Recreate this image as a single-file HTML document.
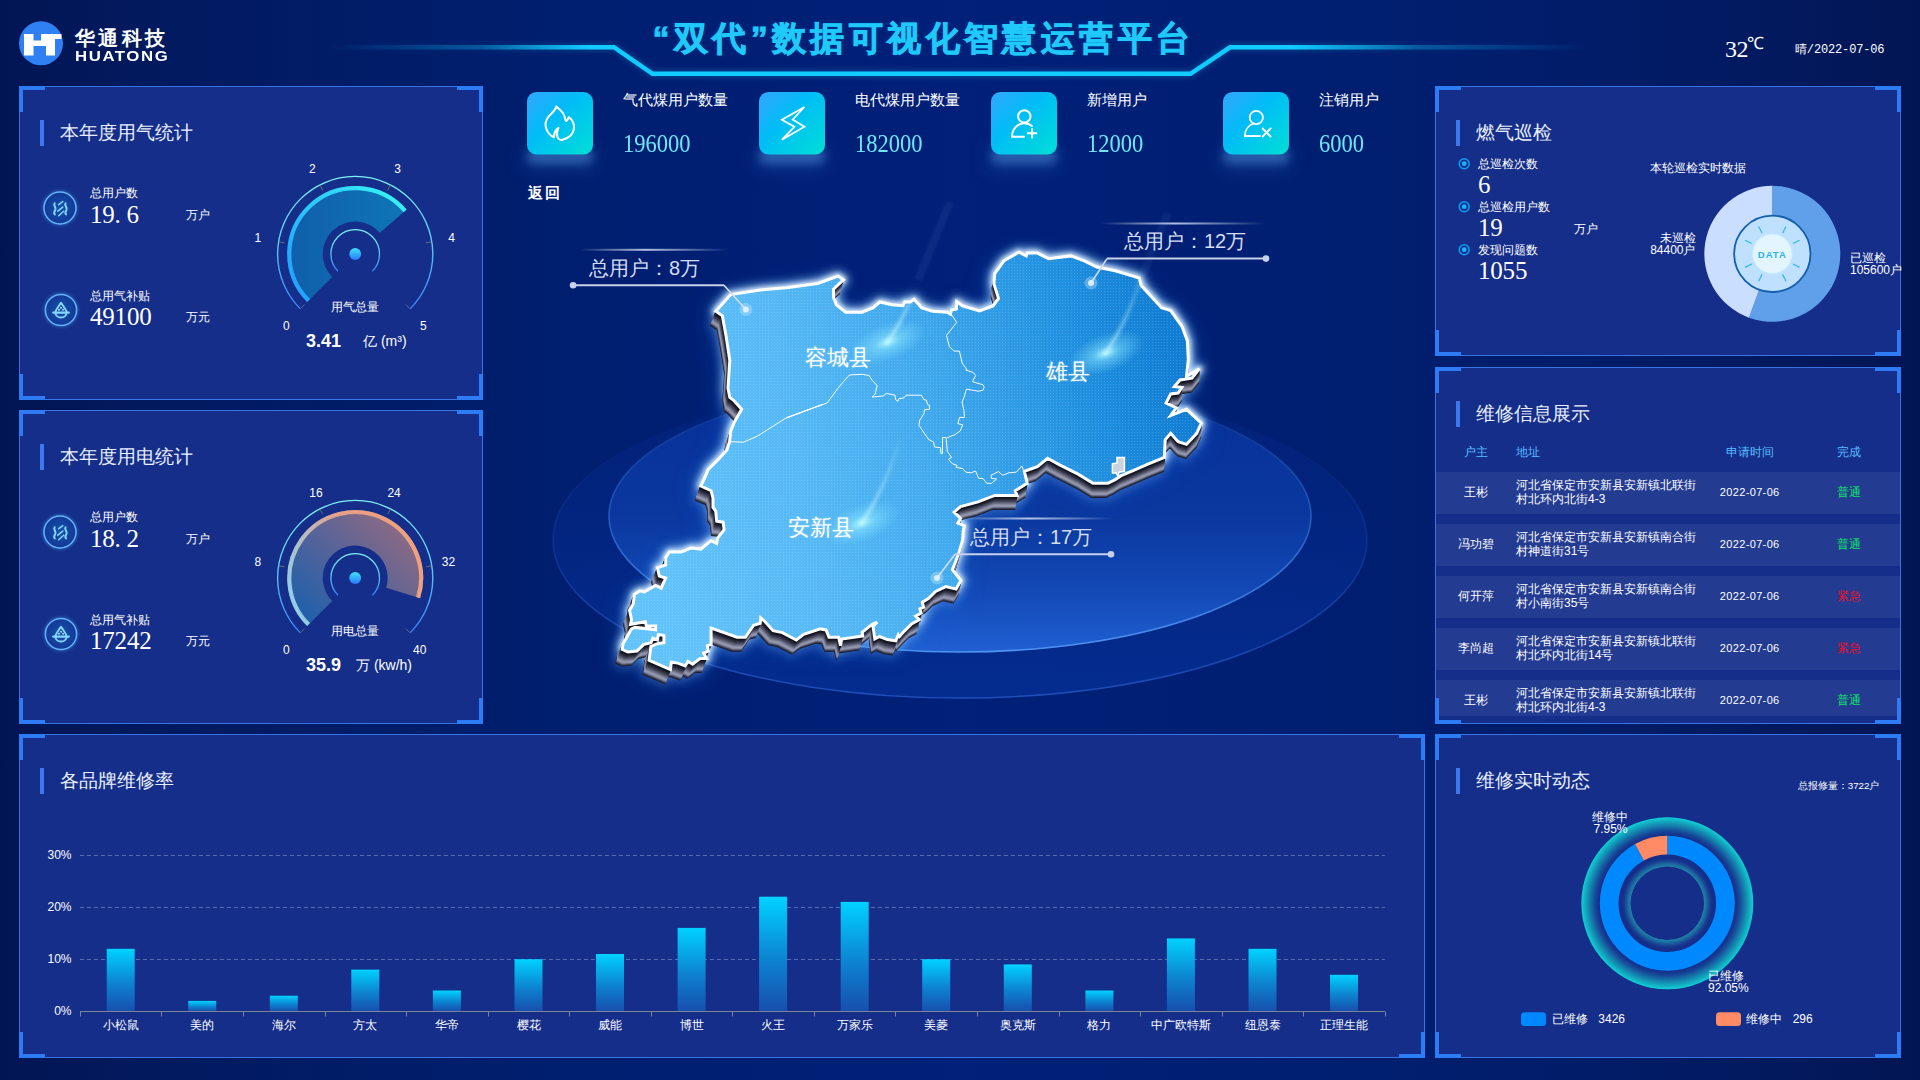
<!DOCTYPE html>
<html lang="zh">
<head>
<meta charset="utf-8">
<title>dashboard</title>
<style>
*{box-sizing:border-box;margin:0;padding:0}
html,body{width:1920px;height:1080px;overflow:hidden;background:#021a5c}
body{position:relative;font-family:"Liberation Sans",sans-serif;color:#fff;
 background:linear-gradient(90deg,#021553 0%,#02195d 7%,#011d69 20%,#001f73 36%,#002079 50%,#001f73 64%,#011d6b 80%,#02195d 93%,#021553 100%)}
.abs{position:absolute}
.serif{font-family:"Liberation Serif",serif}
.panel{position:absolute;background:#152e8a;border:1px solid #3a74e4}
.panel i{z-index:3;position:absolute;width:26px;height:26px;border:0 solid #2d7cf6}
.panel i.tl{left:-1px;top:-1px;border-left-width:4px;border-top-width:4px}
.panel i.tr{right:-1px;top:-1px;border-right-width:4px;border-top-width:4px}
.panel i.bl{left:-1px;bottom:-1px;border-left-width:4px;border-bottom-width:4px}
.panel i.br{right:-1px;bottom:-1px;border-right-width:4px;border-bottom-width:4px}
.ptitle{position:absolute;left:20px;top:32.5px;height:26px;border-left:4px solid #3f78ee;padding-left:16px;
 font-family:"Liberation Serif",serif;font-size:19px;line-height:26px;letter-spacing:0;color:#e8eefc;white-space:nowrap}
.t12{font-size:12px;line-height:14px;white-space:nowrap}
.num{font-family:"Liberation Serif",serif;font-size:25px;line-height:24px;white-space:nowrap;letter-spacing:-0.2px}
.num b{display:inline-block;width:12px;font-weight:normal}
</style>
</head>
<body>
<!-- header -->
<svg class="abs" style="left:0;top:0" width="1920" height="90" viewBox="0 0 1920 90">
 <defs>
  <linearGradient id="hl" x1="0" x2="1" y1="0" y2="0">
   <stop offset="0" stop-color="#12c8ff" stop-opacity="0"/>
   <stop offset="0.12" stop-color="#12c8ff" stop-opacity="0.3"/>
   <stop offset="0.206" stop-color="#12ccff" stop-opacity="1"/>
   <stop offset="0.762" stop-color="#12ccff" stop-opacity="1"/>
   <stop offset="0.865" stop-color="#12c8ff" stop-opacity="0.3"/>
   <stop offset="1" stop-color="#12c8ff" stop-opacity="0"/>
  </linearGradient>
  <filter id="hglow" x="-5%" y="-200%" width="110%" height="500%"><feGaussianBlur stdDeviation="2.5"/></filter>
 </defs>
 <path d="M330 47.3 H614 L652.5 73.8 H1190.5 L1230 47.3 H1590" fill="none" stroke="url(#hl)" stroke-width="7" filter="url(#hglow)" opacity="0.22" gradientUnits="userSpaceOnUse"/>
 <path d="M330 47.3 H614 L652.5 73.8 H1190.5 L1230 47.3 H1590" fill="none" stroke="url(#hl)" stroke-width="4.4"/>
 <!-- logo -->
 <circle cx="41" cy="43.3" r="22" fill="#2f80f2"/>
 <path d="M24 34 H33.5 V40.5 H41 V34 H61.5 V39 H55 V55.5 H46 V46 H33.5 V55.5 H24 Z" fill="#fff"/>
</svg>
<div class="abs" style="left:75px;top:26px;font-size:20px;line-height:24px;font-weight:bold;letter-spacing:3.4px;white-space:nowrap">华通科技</div>
<div class="abs" style="left:75px;top:47px;font-size:14px;line-height:18px;font-weight:bold;letter-spacing:1.3px;white-space:nowrap;transform:scaleX(1.2);transform-origin:0 0">HUATONG</div>
<div class="abs" id="title" style="left:643.5px;top:15px;width:560px;text-align:center;font-size:34px;line-height:46px;font-weight:bold;letter-spacing:4.4px;white-space:nowrap;color:#1fc9f9;-webkit-text-stroke:0.8px #1fc9f9;text-shadow:0 0 4px rgba(20,160,255,.25)">“双代”数据可视化智慧运营平台</div>
<div class="abs serif" style="left:1725px;top:36.5px;font-size:24px;line-height:24px;white-space:nowrap;letter-spacing:-0.6px">32<span style="font-size:17px;position:relative;top:-7.5px;letter-spacing:0;margin-left:-0.8px">℃</span></div>
<div class="abs" style="left:1795px;top:42.5px;font-size:12px;line-height:14px;font-family:'Liberation Mono',monospace;letter-spacing:-0.15px;white-space:nowrap">晴/2022-07-06</div>

<!-- stat cards -->
<svg width="0" height="0" style="position:absolute"><defs><linearGradient id="cg" x1="0" y1="0" x2="1" y2="1"><stop offset="0" stop-color="#33a6ff"/><stop offset="0.42" stop-color="#00bdf6"/><stop offset="1" stop-color="#00dfd6"/></linearGradient></defs></svg>
<div class="abs" style="left:532px;top:148px;width:56px;height:6px;border-radius:3px;box-shadow:0 5px 9px 5px rgba(74,140,212,.5),0 8px 18px 10px rgba(50,110,200,.22)"></div>
<svg class="abs" style="left:527px;top:92px" width="66" height="63" viewBox="0 0 66 63"><rect x="0" y="0" width="66" height="62.5" rx="9.5" fill="url(#cg)"/><path d="M29.2 14.4 C32.5 17 36.5 20 37.8 25 C38.2 27.6 38.6 29 39.3 29 C40.3 28.6 40.8 26.6 42 25.2 C45 27.5 47.2 31.5 47 36 C46.7 41.5 42 46.6 35 48 C32 48.2 30.2 46 30 42.5 C29.9 39.5 31 36.8 31.5 35.8 C29 37 27.3 40 27 45.2 C23.5 44 19.5 40 18.6 34 C18 28.5 21 24.5 24.5 21.5 C27 19.3 28.8 17 29.2 14.4 Z" fill="none" stroke="#fff" stroke-width="2" stroke-linejoin="round"/></svg>
<div class="abs serif" style="left:623px;top:91px;font-size:14.8px;line-height:18px;letter-spacing:0;white-space:nowrap">气代煤用户数量</div>
<div class="abs serif" style="left:623px;top:131.3px;font-size:22.5px;line-height:26px;white-space:nowrap;color:#6fe6f8;transform:scaleY(1.08);transform-origin:0 30%">196000</div>
<div class="abs" style="left:764px;top:148px;width:56px;height:6px;border-radius:3px;box-shadow:0 5px 9px 5px rgba(74,140,212,.5),0 8px 18px 10px rgba(50,110,200,.22)"></div>
<svg class="abs" style="left:759px;top:92px" width="66" height="63" viewBox="0 0 66 63"><rect x="0" y="0" width="66" height="62.5" rx="9.5" fill="url(#cg)"/><path d="M45.4 15 L22.9 27.75 L35.4 34.8 L22.9 47.75 L45.4 34.7 L33.75 27.5 Z" fill="none" stroke="#fff" stroke-width="1.8" stroke-linejoin="miter"/></svg>
<div class="abs serif" style="left:855px;top:91px;font-size:14.8px;line-height:18px;letter-spacing:0;white-space:nowrap">电代煤用户数量</div>
<div class="abs serif" style="left:855px;top:131.3px;font-size:22.5px;line-height:26px;white-space:nowrap;color:#6fe6f8;transform:scaleY(1.08);transform-origin:0 30%">182000</div>
<div class="abs" style="left:996px;top:148px;width:56px;height:6px;border-radius:3px;box-shadow:0 5px 9px 5px rgba(74,140,212,.5),0 8px 18px 10px rgba(50,110,200,.22)"></div>
<svg class="abs" style="left:991px;top:92px" width="66" height="63" viewBox="0 0 66 63"><rect x="0" y="0" width="66" height="62.5" rx="9.5" fill="url(#cg)"/><circle cx="33.3" cy="24.4" r="6.2" fill="none" stroke="#fff" stroke-width="2"/><path d="M33 44.8 H21 C21 37 26.5 31.2 33.3 31.2 C36.3 31.2 39 32.3 40.8 34" fill="none" stroke="#fff" stroke-width="2" stroke-linecap="round" stroke-linejoin="round"/><path d="M36.8 41.3 H45.4 M41.1 37 V45.6" stroke="#fff" stroke-width="2" stroke-linecap="round"/></svg>
<div class="abs serif" style="left:1087px;top:91px;font-size:14.8px;line-height:18px;letter-spacing:0;white-space:nowrap">新增用户</div>
<div class="abs serif" style="left:1087px;top:131.3px;font-size:22.5px;line-height:26px;white-space:nowrap;color:#6fe6f8;transform:scaleY(1.08);transform-origin:0 30%">12000</div>
<div class="abs" style="left:1228px;top:148px;width:56px;height:6px;border-radius:3px;box-shadow:0 5px 9px 5px rgba(74,140,212,.5),0 8px 18px 10px rgba(50,110,200,.22)"></div>
<svg class="abs" style="left:1223px;top:92px" width="66" height="63" viewBox="0 0 66 63"><rect x="0" y="0" width="66" height="62.5" rx="9.5" fill="url(#cg)"/><circle cx="33.3" cy="25.5" r="6.6" fill="none" stroke="#fff" stroke-width="1.8"/><path d="M30 31.6 C25.5 33.2 22 38 21.8 44 H37" fill="none" stroke="#fff" stroke-width="1.8" stroke-linecap="round" stroke-linejoin="round"/><path d="M39.6 36.5 L47.6 44.5 M47.6 36.5 L39.6 44.5" stroke="#fff" stroke-width="1.8" stroke-linecap="round"/></svg>
<div class="abs serif" style="left:1319px;top:91px;font-size:14.8px;line-height:18px;letter-spacing:0;white-space:nowrap">注销用户</div>
<div class="abs serif" style="left:1319px;top:131.3px;font-size:22.5px;line-height:26px;white-space:nowrap;color:#6fe6f8;transform:scaleY(1.08);transform-origin:0 30%">6000</div>
<div class="abs" style="left:528px;top:184px;font-size:15px;line-height:18px;font-weight:bold;letter-spacing:2px;white-space:nowrap">返回</div>

<!-- map -->
<svg class="abs" style="left:500px;top:170px" width="920" height="560" viewBox="500 170 920 560">
<defs>
<linearGradient id="mfill" gradientUnits="userSpaceOnUse" x1="650" y1="520" x2="1200" y2="400"><stop offset="0" stop-color="#62c2fa"/><stop offset="0.3" stop-color="#55b8f5"/><stop offset="0.55" stop-color="#3ea7ec"/><stop offset="0.8" stop-color="#2090df"/><stop offset="1" stop-color="#0f7bd2"/></linearGradient>
<linearGradient id="e1" gradientUnits="userSpaceOnUse" x1="0" y1="380" x2="0" y2="652"><stop offset="0" stop-color="#072f96"/><stop offset="0.5" stop-color="#0a389f"/><stop offset="0.78" stop-color="#1349b6"/><stop offset="1" stop-color="#2060d2"/></linearGradient>
<linearGradient id="e1s" gradientUnits="userSpaceOnUse" x1="0" y1="420" x2="0" y2="652"><stop offset="0" stop-color="#2c5fc4" stop-opacity=".25"/><stop offset="0.6" stop-color="#3a78dc" stop-opacity=".8"/><stop offset="1" stop-color="#4f93f2"/></linearGradient>
<linearGradient id="e2" gradientUnits="userSpaceOnUse" x1="0" y1="382" x2="0" y2="698"><stop offset="0" stop-color="#05288a" stop-opacity="0.2"/><stop offset="1" stop-color="#042c8f"/></linearGradient>
<linearGradient id="e2s" gradientUnits="userSpaceOnUse" x1="0" y1="440" x2="0" y2="698"><stop offset="0" stop-color="#1c48b0" stop-opacity="0"/><stop offset="1" stop-color="#1f4eb8"/></linearGradient>
<filter id="mg" x="-10%" y="-10%" width="120%" height="125%"><feGaussianBlur stdDeviation="5"/></filter>
<filter id="mg2" x="-10%" y="-10%" width="120%" height="125%"><feGaussianBlur stdDeviation="14"/></filter>
<filter id="mg3" x="-10%" y="-10%" width="120%" height="125%"><feGaussianBlur stdDeviation="2"/></filter>
<filter id="b1" x="-50%" y="-50%" width="200%" height="200%"><feGaussianBlur stdDeviation="1.2"/></filter>
<radialGradient id="fl"><stop offset="0" stop-color="#b8fbff" stop-opacity=".95"/><stop offset="0.35" stop-color="#8ee9ff" stop-opacity=".5"/><stop offset="1" stop-color="#7fe0ff" stop-opacity="0"/></radialGradient>
<linearGradient id="tl" x1="0" x2="1" y1="0" y2="0"><stop offset="0" stop-color="#fff" stop-opacity="0"/><stop offset="0.45" stop-color="#dfe6ff" stop-opacity=".8"/><stop offset="1" stop-color="#fff" stop-opacity="0"/></linearGradient>
<linearGradient id="st" x1="0" x2="1" y1="1" y2="0"><stop offset="0" stop-color="#c8f6ff" stop-opacity=".9"/><stop offset="1" stop-color="#c8f6ff" stop-opacity="0"/></linearGradient>
<pattern id="dots" width="3" height="3" patternUnits="userSpaceOnUse"><rect x="0" y="0" width="1" height="1" fill="#fff" opacity=".16"/></pattern>
</defs>
<ellipse cx="960" cy="540" rx="407" ry="158" fill="url(#e2)" stroke="url(#e2s)" stroke-width="1.5"/>
<ellipse cx="960" cy="516" rx="351" ry="136" fill="url(#e1)" stroke="url(#e1s)" stroke-width="1.6"/>
<path d="M712.9 319.3 L727.8 302.6 L757.7 298.0 L783.7 295.8 L815.4 291.5 L835.8 284.1 L841.0 287.8 L831.2 297.1 L831.2 305.4 L834.0 312.8 L843.3 320.2 L860.0 320.2 L871.2 315.6 L877.7 310.0 L889.9 312.8 L901.0 313.7 L902.8 310.0 L908.5 310.0 L912.2 307.3 L919.6 315.6 L930.8 319.3 L945.7 320.2 L948.8 322.2 L949.8 318.0 L954.6 317.0 L955.1 309.6 L960.7 313.8 L978.0 319.0 L991.5 313.9 L997.1 306.5 L992.4 291.7 L993.3 281.5 L1002.7 268.6 L1017.6 260.2 L1025.0 263.9 L1025.9 261.1 L1036.2 261.1 L1047.3 266.7 L1069.7 263.9 L1082.7 268.6 L1095.8 275.0 L1114.4 278.7 L1138.6 286.1 L1140.4 293.6 L1160.9 315.8 L1170.2 318.6 L1181.5 334.3 L1187.0 349.1 L1187.9 367.6 L1186.1 384.3 L1199.1 376.9 L1191.6 386.1 L1179.5 388.0 L1173.9 394.5 L1181.5 395.4 L1177.6 401.0 L1170.2 401.9 L1165.6 411.1 L1175.8 415.8 L1170.2 423.5 L1186.1 417.3 L1201.0 431.1 L1196.3 441.3 L1186.1 452.4 L1177.6 449.7 L1170.2 441.3 L1164.7 447.8 L1163.8 465.4 L1147.9 471.9 L1133.0 478.4 L1119.9 483.9 L1114.4 487.6 L1107.0 491.3 L1092.1 491.3 L1077.1 482.1 L1058.5 472.8 L1046.4 466.3 L1036.2 474.7 L1023.1 479.3 L1025.9 491.3 L1013.8 498.7 L1015.7 503.4 L993.3 503.4 L976.5 509.9 L959.0 514.5 L952.4 520.0 L959.0 526.5 L956.1 531.1 L962.7 533.9 L961.7 538.0 L961.1 547.6 L956.8 562.1 L950.7 577.7 L959.3 588.6 L954.3 597.0 L944.1 594.6 L933.8 599.4 L926.6 606.6 L920.4 610.2 L921.6 615.1 L918.0 616.9 L919.2 621.1 L913.8 624.1 L917.4 627.7 L909.6 631.9 L902.3 639.1 L897.5 644.5 L896.3 642.7 L893.8 648.8 L885.4 647.6 L877.5 644.5 L872.7 647.0 L870.9 634.3 L875.1 630.1 L869.7 632.5 L859.9 640.3 L860.5 643.9 L839.4 647.0 L838.2 653.6 L836.4 645.2 L826.6 645.2 L823.6 637.9 L818.0 636.9 L801.2 642.4 L793.8 648.0 L779.8 640.6 L770.4 638.7 L762.1 629.5 L758.0 625.8 L757.5 631.3 L750.9 633.2 L742.6 645.2 L734.1 645.2 L708.1 636.0 L708.1 652.6 L704.4 653.6 L705.3 659.1 L700.6 661.0 L703.5 666.5 L696.9 666.5 L689.5 672.1 L684.9 669.3 L682.0 673.9 L674.6 671.1 L668.1 670.2 L667.2 677.6 L652.3 671.1 L645.8 668.4 L647.6 654.5 L654.1 651.7 L660.6 650.8 L660.6 643.4 L655.0 642.4 L654.1 648.0 L649.5 646.1 L647.6 650.8 L640.1 652.6 L633.6 659.1 L624.3 660.0 L618.7 657.3 L619.6 651.7 L628.1 636.9 L631.8 635.4 L652.3 637.8 L652.3 634.1 L642.9 634.1 L642.0 629.7 L627.2 632.3 L628.1 627.6 L626.1 618.4 L629.9 611.9 L630.9 602.6 L636.4 598.9 L641.0 599.9 L652.3 593.4 L657.8 596.1 L662.4 586.0 L656.0 584.1 L654.1 575.8 L662.4 573.0 L662.4 565.6 L666.2 560.0 L678.3 559.9 L687.6 556.1 L697.8 557.1 L708.1 548.7 L713.7 551.5 L714.6 546.0 L721.2 537.6 L720.2 530.2 L713.7 529.3 L712.7 519.1 L710.0 515.4 L710.0 506.1 L708.1 498.7 L697.8 494.1 L702.6 483.9 L705.3 477.4 L715.5 467.3 L724.0 458.0 L726.7 449.7 L727.7 439.5 L731.4 430.2 L738.9 417.3 L730.4 408.0 L726.9 405.4 L725.1 396.1 L726.9 368.4 L723.2 344.3 L719.5 323.9 Z" fill="#1a6fe0" opacity=".55" filter="url(#mg2)"/>
<path d="M715.9 311.3 L730.7 294.6 L760.4 290.0 L786.3 287.8 L817.8 283.5 L838.1 276.1 L843.3 279.8 L833.5 289.1 L833.5 297.4 L836.3 304.8 L845.6 312.2 L862.2 312.2 L873.3 307.6 L879.8 302.0 L891.9 304.8 L903.0 305.7 L904.8 302.0 L910.4 302.0 L914.1 299.3 L921.5 307.6 L932.6 311.3 L947.4 312.2 L950.5 314.2 L951.5 310.0 L956.3 309.0 L956.8 301.6 L962.3 305.8 L979.5 311.0 L993.0 305.9 L998.5 298.5 L993.9 283.7 L994.8 273.5 L1004.1 260.6 L1018.9 252.2 L1026.3 255.9 L1027.2 253.1 L1037.4 253.1 L1048.5 258.7 L1070.7 255.9 L1083.7 260.6 L1096.7 267.0 L1115.2 270.7 L1139.3 278.1 L1141.1 285.6 L1161.5 307.8 L1170.7 310.6 L1181.9 326.3 L1187.4 341.1 L1188.3 359.6 L1186.5 376.3 L1199.4 368.9 L1192.0 378.1 L1180.0 380.0 L1174.4 386.5 L1181.9 387.4 L1178.1 393.0 L1170.7 393.9 L1166.1 403.1 L1176.3 407.8 L1170.7 415.5 L1186.5 409.3 L1201.3 423.1 L1196.7 433.3 L1186.5 444.4 L1178.1 441.7 L1170.7 433.3 L1165.2 439.8 L1164.3 457.4 L1148.5 463.9 L1133.7 470.4 L1120.7 475.9 L1115.2 479.6 L1107.8 483.3 L1093.0 483.3 L1078.1 474.1 L1059.6 464.8 L1047.6 458.3 L1037.4 466.7 L1024.4 471.3 L1027.2 483.3 L1015.2 490.7 L1017.0 495.4 L994.8 495.4 L978.1 501.9 L960.6 506.5 L954.1 512.0 L960.6 518.5 L957.8 523.1 L964.3 525.9 L963.3 530.0 L962.7 539.6 L958.5 554.1 L952.4 569.7 L960.9 580.6 L956.0 589.0 L945.8 586.6 L935.6 591.4 L928.4 598.6 L922.3 602.2 L923.5 607.1 L919.9 608.9 L921.1 613.1 L915.7 616.1 L919.3 619.7 L911.5 623.9 L904.3 631.1 L899.5 636.5 L898.3 634.7 L895.8 640.8 L887.4 639.6 L879.6 636.5 L874.8 639.0 L873.0 626.3 L877.2 622.1 L871.8 624.5 L862.1 632.3 L862.7 635.9 L841.7 639.0 L840.5 645.6 L838.7 637.2 L829.0 637.2 L826.0 629.9 L820.4 628.9 L803.7 634.4 L796.3 640.0 L782.4 632.6 L773.1 630.7 L764.8 621.5 L760.7 617.8 L760.2 623.3 L753.7 625.2 L745.4 637.2 L737.0 637.2 L711.1 628.0 L711.1 644.6 L707.4 645.6 L708.3 651.1 L703.7 653.0 L706.5 658.5 L700.0 658.5 L692.6 664.1 L688.0 661.3 L685.2 665.9 L677.8 663.1 L671.3 662.2 L670.4 669.6 L655.6 663.1 L649.1 660.4 L650.9 646.5 L657.4 643.7 L663.9 642.8 L663.9 635.4 L658.3 634.4 L657.4 640.0 L652.8 638.1 L650.9 642.8 L643.5 644.6 L637.0 651.1 L627.8 652.0 L622.2 649.3 L623.1 643.7 L631.5 628.9 L635.2 627.4 L655.6 629.8 L655.6 626.1 L646.3 626.1 L645.4 621.7 L630.6 624.3 L631.5 619.6 L629.6 610.4 L633.3 603.9 L634.3 594.6 L639.8 590.9 L644.4 591.9 L655.6 585.4 L661.1 588.1 L665.7 578.0 L659.3 576.1 L657.4 567.8 L665.7 565.0 L665.7 557.6 L669.4 552.0 L681.5 551.9 L690.7 548.1 L700.9 549.1 L711.1 540.7 L716.7 543.5 L717.6 538.0 L724.1 529.6 L723.1 522.2 L716.7 521.3 L715.7 511.1 L713.0 507.4 L713.0 498.1 L711.1 490.7 L700.9 486.1 L705.6 475.9 L708.3 469.4 L718.5 459.3 L726.9 450.0 L729.6 441.7 L730.6 431.5 L734.3 422.2 L741.7 409.3 L733.3 400.0 L729.8 397.4 L728.0 388.1 L729.8 360.4 L726.1 336.3 L722.4 315.9 Z" fill="none" stroke="#9fd4ff" stroke-width="10" opacity=".85" filter="url(#mg)" stroke-linejoin="round"/>
<path d="M715.9 311.3 L730.7 294.6 L760.4 290.0 L786.3 287.8 L817.8 283.5 L838.1 276.1 L843.3 279.8 L833.5 289.1 L833.5 297.4 L836.3 304.8 L845.6 312.2 L862.2 312.2 L873.3 307.6 L879.8 302.0 L891.9 304.8 L903.0 305.7 L904.8 302.0 L910.4 302.0 L914.1 299.3 L921.5 307.6 L932.6 311.3 L947.4 312.2 L950.5 314.2 L951.5 310.0 L956.3 309.0 L956.8 301.6 L962.3 305.8 L979.5 311.0 L993.0 305.9 L998.5 298.5 L993.9 283.7 L994.8 273.5 L1004.1 260.6 L1018.9 252.2 L1026.3 255.9 L1027.2 253.1 L1037.4 253.1 L1048.5 258.7 L1070.7 255.9 L1083.7 260.6 L1096.7 267.0 L1115.2 270.7 L1139.3 278.1 L1141.1 285.6 L1161.5 307.8 L1170.7 310.6 L1181.9 326.3 L1187.4 341.1 L1188.3 359.6 L1186.5 376.3 L1199.4 368.9 L1192.0 378.1 L1180.0 380.0 L1174.4 386.5 L1181.9 387.4 L1178.1 393.0 L1170.7 393.9 L1166.1 403.1 L1176.3 407.8 L1170.7 415.5 L1186.5 409.3 L1201.3 423.1 L1196.7 433.3 L1186.5 444.4 L1178.1 441.7 L1170.7 433.3 L1165.2 439.8 L1164.3 457.4 L1148.5 463.9 L1133.7 470.4 L1120.7 475.9 L1115.2 479.6 L1107.8 483.3 L1093.0 483.3 L1078.1 474.1 L1059.6 464.8 L1047.6 458.3 L1037.4 466.7 L1024.4 471.3 L1027.2 483.3 L1015.2 490.7 L1017.0 495.4 L994.8 495.4 L978.1 501.9 L960.6 506.5 L954.1 512.0 L960.6 518.5 L957.8 523.1 L964.3 525.9 L963.3 530.0 L962.7 539.6 L958.5 554.1 L952.4 569.7 L960.9 580.6 L956.0 589.0 L945.8 586.6 L935.6 591.4 L928.4 598.6 L922.3 602.2 L923.5 607.1 L919.9 608.9 L921.1 613.1 L915.7 616.1 L919.3 619.7 L911.5 623.9 L904.3 631.1 L899.5 636.5 L898.3 634.7 L895.8 640.8 L887.4 639.6 L879.6 636.5 L874.8 639.0 L873.0 626.3 L877.2 622.1 L871.8 624.5 L862.1 632.3 L862.7 635.9 L841.7 639.0 L840.5 645.6 L838.7 637.2 L829.0 637.2 L826.0 629.9 L820.4 628.9 L803.7 634.4 L796.3 640.0 L782.4 632.6 L773.1 630.7 L764.8 621.5 L760.7 617.8 L760.2 623.3 L753.7 625.2 L745.4 637.2 L737.0 637.2 L711.1 628.0 L711.1 644.6 L707.4 645.6 L708.3 651.1 L703.7 653.0 L706.5 658.5 L700.0 658.5 L692.6 664.1 L688.0 661.3 L685.2 665.9 L677.8 663.1 L671.3 662.2 L670.4 669.6 L655.6 663.1 L649.1 660.4 L650.9 646.5 L657.4 643.7 L663.9 642.8 L663.9 635.4 L658.3 634.4 L657.4 640.0 L652.8 638.1 L650.9 642.8 L643.5 644.6 L637.0 651.1 L627.8 652.0 L622.2 649.3 L623.1 643.7 L631.5 628.9 L635.2 627.4 L655.6 629.8 L655.6 626.1 L646.3 626.1 L645.4 621.7 L630.6 624.3 L631.5 619.6 L629.6 610.4 L633.3 603.9 L634.3 594.6 L639.8 590.9 L644.4 591.9 L655.6 585.4 L661.1 588.1 L665.7 578.0 L659.3 576.1 L657.4 567.8 L665.7 565.0 L665.7 557.6 L669.4 552.0 L681.5 551.9 L690.7 548.1 L700.9 549.1 L711.1 540.7 L716.7 543.5 L717.6 538.0 L724.1 529.6 L723.1 522.2 L716.7 521.3 L715.7 511.1 L713.0 507.4 L713.0 498.1 L711.1 490.7 L700.9 486.1 L705.6 475.9 L708.3 469.4 L718.5 459.3 L726.9 450.0 L729.6 441.7 L730.6 431.5 L734.3 422.2 L741.7 409.3 L733.3 400.0 L729.8 397.4 L728.0 388.1 L729.8 360.4 L726.1 336.3 L722.4 315.9 Z" fill="none" stroke="#e8f4ff" stroke-width="6" opacity=".8" filter="url(#mg3)" stroke-linejoin="round"/>
<path d="M710.7 325.3 L725.6 308.6 L755.6 304.0 L781.7 301.8 L813.6 297.5 L834.0 290.1 L839.3 293.8 L829.4 303.1 L829.4 311.4 L832.2 318.8 L841.6 326.2 L858.4 326.2 L869.6 321.6 L876.1 316.0 L888.4 318.8 L899.6 319.7 L901.4 316.0 L907.0 316.0 L910.8 313.3 L918.2 321.6 L929.4 325.3 L944.4 326.2 L947.5 328.2 L948.5 324.0 L953.4 323.0 L953.9 315.6 L959.4 319.8 L976.8 325.0 L990.4 319.9 L996.0 312.5 L991.3 297.7 L992.2 287.5 L1001.6 274.6 L1016.6 266.2 L1024.0 269.9 L1024.9 267.1 L1035.2 267.1 L1046.5 272.7 L1068.9 269.9 L1082.0 274.6 L1095.1 281.0 L1113.8 284.7 L1138.1 292.1 L1139.9 299.6 L1160.5 321.8 L1169.8 324.6 L1181.1 340.3 L1186.7 355.1 L1187.6 373.6 L1185.8 390.3 L1198.8 382.9 L1191.3 392.1 L1179.2 394.0 L1173.6 400.5 L1181.1 401.4 L1177.3 407.0 L1169.8 407.9 L1165.2 417.1 L1175.5 421.8 L1169.8 429.5 L1185.8 423.3 L1200.7 437.1 L1196.1 447.3 L1185.8 458.4 L1177.3 455.7 L1169.8 447.3 L1164.3 453.8 L1163.4 471.4 L1147.4 477.9 L1132.5 484.4 L1119.3 489.9 L1113.8 493.6 L1106.3 497.3 L1091.4 497.3 L1076.3 488.1 L1057.7 478.8 L1045.5 472.3 L1035.2 480.7 L1022.1 485.3 L1024.9 497.3 L1012.8 504.7 L1014.7 509.4 L992.2 509.4 L975.4 515.9 L957.7 520.5 L951.2 526.0 L957.7 532.5 L954.9 537.1 L961.4 539.9 L960.4 544.0 L959.8 553.6 L955.6 568.1 L949.4 583.7 L958.0 594.6 L953.1 603.0 L942.8 600.6 L932.5 605.4 L925.2 612.6 L919.0 616.2 L920.3 621.1 L916.6 622.9 L917.8 627.1 L912.4 630.1 L916.0 633.7 L908.1 637.9 L900.9 645.1 L896.0 650.5 L894.8 648.7 L892.3 654.8 L883.8 653.6 L875.9 650.5 L871.1 653.0 L869.3 640.3 L873.5 636.1 L868.1 638.5 L858.3 646.3 L858.9 649.9 L837.7 653.0 L836.5 659.6 L834.6 651.2 L824.9 651.2 L821.8 643.9 L816.2 642.9 L799.3 648.4 L791.8 654.0 L777.8 646.6 L768.4 644.7 L760.0 635.5 L755.9 631.8 L755.4 637.3 L748.8 639.2 L740.5 651.2 L732.0 651.2 L705.8 642.0 L705.8 658.6 L702.1 659.6 L703.0 665.1 L698.4 667.0 L701.2 672.5 L694.6 672.5 L687.2 678.1 L682.5 675.3 L679.7 679.9 L672.2 677.1 L665.7 676.2 L664.7 683.6 L649.8 677.1 L643.2 674.4 L645.1 660.5 L651.6 657.7 L658.2 656.8 L658.2 649.4 L652.5 648.4 L651.6 654.0 L647.0 652.1 L645.1 656.8 L637.6 658.6 L631.0 665.1 L621.7 666.0 L616.1 663.3 L617.0 657.7 L625.5 642.9 L629.2 641.4 L649.8 643.8 L649.8 640.1 L640.4 640.1 L639.5 635.7 L624.6 638.3 L625.5 633.6 L623.6 624.4 L627.3 617.9 L628.3 608.6 L633.9 604.9 L638.5 605.9 L649.8 599.4 L655.4 602.1 L660.0 592.0 L653.5 590.1 L651.6 581.8 L660.0 579.0 L660.0 571.6 L663.7 566.0 L675.9 565.9 L685.2 562.1 L695.5 563.1 L705.8 554.7 L711.5 557.5 L712.4 552.0 L719.0 543.6 L717.9 536.2 L711.5 535.3 L710.5 525.1 L707.8 521.4 L707.8 512.1 L705.8 504.7 L695.5 500.1 L700.3 489.9 L703.0 483.4 L713.3 473.3 L721.8 464.0 L724.5 455.7 L725.5 445.5 L729.3 436.2 L736.7 423.3 L728.2 414.0 L724.7 411.4 L722.9 402.1 L724.7 374.4 L721.0 350.3 L717.2 329.9 Z" fill="none" stroke="#7fc0ff" stroke-width="5" opacity=".38" filter="url(#mg)"/>
<path d="M710.7 325.3 L725.6 308.6 L755.6 304.0 L781.7 301.8 L813.6 297.5 L834.0 290.1 L839.3 293.8 L829.4 303.1 L829.4 311.4 L832.2 318.8 L841.6 326.2 L858.4 326.2 L869.6 321.6 L876.1 316.0 L888.4 318.8 L899.6 319.7 L901.4 316.0 L907.0 316.0 L910.8 313.3 L918.2 321.6 L929.4 325.3 L944.4 326.2 L947.5 328.2 L948.5 324.0 L953.4 323.0 L953.9 315.6 L959.4 319.8 L976.8 325.0 L990.4 319.9 L996.0 312.5 L991.3 297.7 L992.2 287.5 L1001.6 274.6 L1016.6 266.2 L1024.0 269.9 L1024.9 267.1 L1035.2 267.1 L1046.5 272.7 L1068.9 269.9 L1082.0 274.6 L1095.1 281.0 L1113.8 284.7 L1138.1 292.1 L1139.9 299.6 L1160.5 321.8 L1169.8 324.6 L1181.1 340.3 L1186.7 355.1 L1187.6 373.6 L1185.8 390.3 L1198.8 382.9 L1191.3 392.1 L1179.2 394.0 L1173.6 400.5 L1181.1 401.4 L1177.3 407.0 L1169.8 407.9 L1165.2 417.1 L1175.5 421.8 L1169.8 429.5 L1185.8 423.3 L1200.7 437.1 L1196.1 447.3 L1185.8 458.4 L1177.3 455.7 L1169.8 447.3 L1164.3 453.8 L1163.4 471.4 L1147.4 477.9 L1132.5 484.4 L1119.3 489.9 L1113.8 493.6 L1106.3 497.3 L1091.4 497.3 L1076.3 488.1 L1057.7 478.8 L1045.5 472.3 L1035.2 480.7 L1022.1 485.3 L1024.9 497.3 L1012.8 504.7 L1014.7 509.4 L992.2 509.4 L975.4 515.9 L957.7 520.5 L951.2 526.0 L957.7 532.5 L954.9 537.1 L961.4 539.9 L960.4 544.0 L959.8 553.6 L955.6 568.1 L949.4 583.7 L958.0 594.6 L953.1 603.0 L942.8 600.6 L932.5 605.4 L925.2 612.6 L919.0 616.2 L920.3 621.1 L916.6 622.9 L917.8 627.1 L912.4 630.1 L916.0 633.7 L908.1 637.9 L900.9 645.1 L896.0 650.5 L894.8 648.7 L892.3 654.8 L883.8 653.6 L875.9 650.5 L871.1 653.0 L869.3 640.3 L873.5 636.1 L868.1 638.5 L858.3 646.3 L858.9 649.9 L837.7 653.0 L836.5 659.6 L834.6 651.2 L824.9 651.2 L821.8 643.9 L816.2 642.9 L799.3 648.4 L791.8 654.0 L777.8 646.6 L768.4 644.7 L760.0 635.5 L755.9 631.8 L755.4 637.3 L748.8 639.2 L740.5 651.2 L732.0 651.2 L705.8 642.0 L705.8 658.6 L702.1 659.6 L703.0 665.1 L698.4 667.0 L701.2 672.5 L694.6 672.5 L687.2 678.1 L682.5 675.3 L679.7 679.9 L672.2 677.1 L665.7 676.2 L664.7 683.6 L649.8 677.1 L643.2 674.4 L645.1 660.5 L651.6 657.7 L658.2 656.8 L658.2 649.4 L652.5 648.4 L651.6 654.0 L647.0 652.1 L645.1 656.8 L637.6 658.6 L631.0 665.1 L621.7 666.0 L616.1 663.3 L617.0 657.7 L625.5 642.9 L629.2 641.4 L649.8 643.8 L649.8 640.1 L640.4 640.1 L639.5 635.7 L624.6 638.3 L625.5 633.6 L623.6 624.4 L627.3 617.9 L628.3 608.6 L633.9 604.9 L638.5 605.9 L649.8 599.4 L655.4 602.1 L660.0 592.0 L653.5 590.1 L651.6 581.8 L660.0 579.0 L660.0 571.6 L663.7 566.0 L675.9 565.9 L685.2 562.1 L695.5 563.1 L705.8 554.7 L711.5 557.5 L712.4 552.0 L719.0 543.6 L717.9 536.2 L711.5 535.3 L710.5 525.1 L707.8 521.4 L707.8 512.1 L705.8 504.7 L695.5 500.1 L700.3 489.9 L703.0 483.4 L713.3 473.3 L721.8 464.0 L724.5 455.7 L725.5 445.5 L729.3 436.2 L736.7 423.3 L728.2 414.0 L724.7 411.4 L722.9 402.1 L724.7 374.4 L721.0 350.3 L717.2 329.9 Z" fill="#1c1f30" stroke="#1c1f30" stroke-width="1.2" stroke-linejoin="round"/>
<path d="M711.1 324.3 L726.0 307.6 L755.9 303.0 L782.1 300.8 L813.9 296.5 L834.3 289.1 L839.6 292.8 L829.7 302.1 L829.7 310.4 L832.5 317.8 L841.9 325.2 L858.6 325.2 L869.8 320.6 L876.4 315.0 L888.6 317.8 L899.8 318.7 L901.6 315.0 L907.3 315.0 L911.0 312.3 L918.5 320.6 L929.7 324.3 L944.6 325.2 L947.7 327.2 L948.7 323.0 L953.6 322.0 L954.1 314.6 L959.6 318.8 L977.0 324.0 L990.6 318.9 L996.2 311.5 L991.5 296.7 L992.4 286.5 L1001.8 273.6 L1016.7 265.2 L1024.2 268.9 L1025.1 266.1 L1035.4 266.1 L1046.6 271.7 L1069.0 268.9 L1082.1 273.6 L1095.2 280.0 L1113.9 283.7 L1138.2 291.1 L1140.0 298.6 L1160.6 320.8 L1169.9 323.6 L1181.2 339.3 L1186.7 354.1 L1187.6 372.6 L1185.8 389.3 L1198.8 381.9 L1191.4 391.1 L1179.3 393.0 L1173.6 399.5 L1181.2 400.4 L1177.3 406.0 L1169.9 406.9 L1165.2 416.1 L1175.5 420.8 L1169.9 428.5 L1185.8 422.3 L1200.8 436.1 L1196.1 446.3 L1185.8 457.4 L1177.3 454.7 L1169.9 446.3 L1164.3 452.8 L1163.4 470.4 L1147.5 476.9 L1132.6 483.4 L1119.4 488.9 L1113.9 492.6 L1106.4 496.3 L1091.5 496.3 L1076.5 487.1 L1057.8 477.8 L1045.7 471.3 L1035.4 479.7 L1022.3 484.3 L1025.1 496.3 L1013.0 503.7 L1014.8 508.4 L992.4 508.4 L975.6 514.9 L957.9 519.5 L951.4 525.0 L957.9 531.5 L955.1 536.1 L961.7 538.9 L960.6 543.0 L960.0 552.6 L955.8 567.1 L949.6 582.7 L958.2 593.6 L953.3 602.0 L943.0 599.6 L932.7 604.4 L925.4 611.6 L919.3 615.2 L920.5 620.1 L916.9 621.9 L918.1 626.1 L912.6 629.1 L916.3 632.7 L908.4 636.9 L901.1 644.1 L896.3 649.5 L895.1 647.7 L892.5 653.8 L884.1 652.6 L876.2 649.5 L871.4 652.0 L869.5 639.3 L873.8 635.1 L868.3 637.5 L858.5 645.3 L859.2 648.9 L838.0 652.0 L836.8 658.6 L834.9 650.2 L825.2 650.2 L822.1 642.9 L816.5 641.9 L799.6 647.4 L792.2 653.0 L778.1 645.6 L768.8 643.7 L760.4 634.5 L756.2 630.8 L755.7 636.3 L749.2 638.2 L740.8 650.2 L732.3 650.2 L706.2 641.0 L706.2 657.6 L702.5 658.6 L703.4 664.1 L698.7 666.0 L701.6 671.5 L695.0 671.5 L687.5 677.1 L682.9 674.3 L680.1 678.9 L672.6 676.1 L666.1 675.2 L665.1 682.6 L650.2 676.1 L643.7 673.4 L645.5 659.5 L652.0 656.7 L658.6 655.8 L658.6 648.4 L652.9 647.4 L652.0 653.0 L647.4 651.1 L645.5 655.8 L638.0 657.6 L631.5 664.1 L622.2 665.0 L616.5 662.3 L617.4 656.7 L625.9 641.9 L629.6 640.4 L650.2 642.8 L650.2 639.1 L640.8 639.1 L639.9 634.7 L625.0 637.3 L625.9 632.6 L624.0 623.4 L627.7 616.9 L628.7 607.6 L634.3 603.9 L638.9 604.9 L650.2 598.4 L655.8 601.1 L660.4 591.0 L653.9 589.1 L652.0 580.8 L660.4 578.0 L660.4 570.6 L664.1 565.0 L676.3 564.9 L685.6 561.1 L695.9 562.1 L706.2 553.7 L711.9 556.5 L712.8 551.0 L719.3 542.6 L718.3 535.2 L711.9 534.3 L710.8 524.1 L708.1 520.4 L708.1 511.1 L706.2 503.7 L695.9 499.1 L700.7 488.9 L703.4 482.4 L713.7 472.3 L722.1 463.0 L724.9 454.7 L725.9 444.5 L729.6 435.2 L737.1 422.3 L728.6 413.0 L725.1 410.4 L723.3 401.1 L725.1 373.4 L721.3 349.3 L717.6 328.9 Z" fill="#3c4056" stroke="#3c4056" stroke-width="1.2" stroke-linejoin="round"/>
<path d="M711.4 323.3 L726.3 306.6 L756.3 302.0 L782.4 299.8 L814.2 295.5 L834.6 288.1 L839.9 291.8 L830.0 301.1 L830.0 309.4 L832.8 316.8 L842.2 324.2 L858.9 324.2 L870.1 319.6 L876.7 314.0 L888.9 316.8 L900.1 317.7 L901.9 314.0 L907.5 314.0 L911.2 311.3 L918.7 319.6 L929.9 323.3 L944.8 324.2 L947.9 326.2 L949.0 322.0 L953.8 321.0 L954.3 313.6 L959.8 317.8 L977.2 323.0 L990.8 317.9 L996.3 310.5 L991.7 295.7 L992.6 285.5 L1002.0 272.6 L1016.9 264.2 L1024.4 267.9 L1025.3 265.1 L1035.6 265.1 L1046.7 270.7 L1069.1 267.9 L1082.2 272.6 L1095.3 279.0 L1114.0 282.7 L1138.3 290.1 L1140.1 297.6 L1160.7 319.8 L1169.9 322.6 L1181.2 338.3 L1186.8 353.1 L1187.7 371.6 L1185.9 388.3 L1198.9 380.9 L1191.4 390.1 L1179.3 392.0 L1173.7 398.5 L1181.2 399.4 L1177.4 405.0 L1169.9 405.9 L1165.3 415.1 L1175.6 419.8 L1169.9 427.5 L1185.9 421.3 L1200.8 435.1 L1196.2 445.3 L1185.9 456.4 L1177.4 453.7 L1169.9 445.3 L1164.4 451.8 L1163.5 469.4 L1147.6 475.9 L1132.6 482.4 L1119.5 487.9 L1114.0 491.6 L1106.5 495.3 L1091.6 495.3 L1076.6 486.1 L1057.9 476.8 L1045.8 470.3 L1035.6 478.7 L1022.4 483.3 L1025.3 495.3 L1013.2 502.7 L1015.0 507.4 L992.6 507.4 L975.8 513.9 L958.1 518.5 L951.6 524.0 L958.1 530.5 L955.3 535.1 L961.9 537.9 L960.8 542.0 L960.2 551.6 L956.0 566.1 L949.9 581.7 L958.4 592.6 L953.5 601.0 L943.2 598.6 L932.9 603.4 L925.7 610.6 L919.5 614.2 L920.7 619.1 L917.1 620.9 L918.3 625.1 L912.9 628.1 L916.5 631.7 L908.6 635.9 L901.4 643.1 L896.5 648.5 L895.3 646.7 L892.8 652.8 L884.3 651.6 L876.5 648.5 L871.6 651.0 L869.8 638.3 L874.0 634.1 L868.6 636.5 L858.8 644.3 L859.4 647.9 L838.3 651.0 L837.0 657.6 L835.2 649.2 L825.4 649.2 L822.4 641.9 L816.8 640.9 L799.9 646.4 L792.5 652.0 L778.5 644.6 L769.1 642.7 L760.7 633.5 L756.6 629.8 L756.1 635.3 L749.5 637.2 L741.2 649.2 L732.7 649.2 L706.6 640.0 L706.6 656.6 L702.9 657.6 L703.8 663.1 L699.1 665.0 L701.9 670.5 L695.4 670.5 L687.9 676.1 L683.3 673.3 L680.5 677.9 L673.0 675.1 L666.5 674.2 L665.6 681.6 L650.6 675.1 L644.1 672.4 L645.9 658.5 L652.4 655.7 L659.0 654.8 L659.0 647.4 L653.4 646.4 L652.4 652.0 L647.8 650.1 L645.9 654.8 L638.4 656.6 L631.9 663.1 L622.6 664.0 L617.0 661.3 L617.9 655.7 L626.3 640.9 L630.1 639.4 L650.6 641.8 L650.6 638.1 L641.3 638.1 L640.3 633.7 L625.4 636.3 L626.3 631.6 L624.4 622.4 L628.1 615.9 L629.2 606.6 L634.7 602.9 L639.3 603.9 L650.6 597.4 L656.2 600.1 L660.8 590.0 L654.4 588.1 L652.4 579.8 L660.8 577.0 L660.8 569.6 L664.5 564.0 L676.7 563.9 L686.0 560.1 L696.3 561.1 L706.6 552.7 L712.2 555.5 L713.1 550.0 L719.7 541.6 L718.7 534.2 L712.2 533.3 L711.2 523.1 L708.5 519.4 L708.5 510.1 L706.6 502.7 L696.3 498.1 L701.0 487.9 L703.8 481.4 L714.0 471.3 L722.5 462.0 L725.2 453.7 L726.2 443.5 L730.0 434.2 L737.4 421.3 L729.0 412.0 L725.4 409.4 L723.6 400.1 L725.4 372.4 L721.7 348.3 L718.0 327.9 Z" fill="#6b6f86" stroke="#6b6f86" stroke-width="1.2" stroke-linejoin="round"/>
<path d="M711.8 322.3 L726.7 305.6 L756.6 301.0 L782.7 298.8 L814.5 294.5 L834.9 287.1 L840.2 290.8 L830.3 300.1 L830.3 308.4 L833.1 315.8 L842.5 323.2 L859.2 323.2 L870.4 318.6 L876.9 313.0 L889.1 315.8 L900.3 316.7 L902.1 313.0 L907.8 313.0 L911.5 310.3 L918.9 318.6 L930.1 322.3 L945.0 323.2 L948.2 325.2 L949.2 321.0 L954.0 320.0 L954.5 312.6 L960.0 316.8 L977.4 322.0 L991.0 316.9 L996.5 309.5 L991.9 294.7 L992.8 284.5 L1002.2 271.6 L1017.1 263.2 L1024.5 266.9 L1025.4 264.1 L1035.7 264.1 L1046.9 269.7 L1069.3 266.9 L1082.4 271.6 L1095.5 278.0 L1114.1 281.7 L1138.4 289.1 L1140.2 296.6 L1160.7 318.8 L1170.0 321.6 L1181.3 337.3 L1186.8 352.1 L1187.7 370.6 L1185.9 387.3 L1198.9 379.9 L1191.5 389.1 L1179.4 391.0 L1173.7 397.5 L1181.3 398.4 L1177.5 404.0 L1170.0 404.9 L1165.4 414.1 L1175.6 418.8 L1170.0 426.5 L1185.9 420.3 L1200.8 434.1 L1196.2 444.3 L1185.9 455.4 L1177.5 452.7 L1170.0 444.3 L1164.5 450.8 L1163.6 468.4 L1147.6 474.9 L1132.7 481.4 L1119.6 486.9 L1114.1 490.6 L1106.6 494.3 L1091.7 494.3 L1076.7 485.1 L1058.1 475.8 L1046.0 469.3 L1035.7 477.7 L1022.6 482.3 L1025.4 494.3 L1013.3 501.7 L1015.2 506.4 L992.8 506.4 L976.0 512.9 L958.3 517.5 L951.8 523.0 L958.3 529.5 L955.5 534.1 L962.1 536.9 L961.1 541.0 L960.4 550.6 L956.2 565.1 L950.1 580.7 L958.6 591.6 L953.7 600.0 L943.4 597.6 L933.1 602.4 L925.9 609.6 L919.7 613.2 L921.0 618.1 L917.3 619.9 L918.5 624.1 L913.1 627.1 L916.7 630.7 L908.9 634.9 L901.6 642.1 L896.8 647.5 L895.6 645.7 L893.0 651.8 L884.6 650.6 L876.7 647.5 L871.9 650.0 L870.1 637.3 L874.3 633.1 L868.9 635.5 L859.1 643.3 L859.7 646.9 L838.5 650.0 L837.3 656.6 L835.5 648.2 L825.7 648.2 L822.7 640.9 L817.1 639.9 L800.3 645.4 L792.8 651.0 L778.8 643.6 L769.4 641.7 L761.1 632.5 L756.9 628.8 L756.4 634.3 L749.9 636.2 L741.5 648.2 L733.1 648.2 L707.0 639.0 L707.0 655.6 L703.2 656.6 L704.1 662.1 L699.5 664.0 L702.3 669.5 L695.8 669.5 L688.3 675.1 L683.7 672.3 L680.9 676.9 L673.4 674.1 L666.9 673.2 L666.0 680.6 L651.0 674.1 L644.5 671.4 L646.3 657.5 L652.9 654.7 L659.4 653.8 L659.4 646.4 L653.8 645.4 L652.9 651.0 L648.2 649.1 L646.3 653.8 L638.9 655.6 L632.3 662.1 L623.0 663.0 L617.4 660.3 L618.3 654.7 L626.8 639.9 L630.5 638.4 L651.0 640.8 L651.0 637.1 L641.7 637.1 L640.8 632.7 L625.9 635.3 L626.8 630.6 L624.8 621.4 L628.6 614.9 L629.6 605.6 L635.1 601.9 L639.8 602.9 L651.0 596.4 L656.6 599.1 L661.2 589.0 L654.8 587.1 L652.9 578.8 L661.2 576.0 L661.2 568.6 L664.9 563.0 L677.1 562.9 L686.4 559.1 L696.7 560.1 L707.0 551.7 L712.6 554.5 L713.5 549.0 L720.1 540.6 L719.1 533.2 L712.6 532.3 L711.6 522.1 L708.9 518.4 L708.9 509.1 L707.0 501.7 L696.7 497.1 L701.4 486.9 L704.1 480.4 L714.4 470.3 L722.9 461.0 L725.6 452.7 L726.6 442.5 L730.3 433.2 L737.8 420.3 L729.3 411.0 L725.8 408.4 L724.0 399.1 L725.8 371.4 L722.1 347.3 L718.3 326.9 Z" fill="#8e91a8" stroke="#8e91a8" stroke-width="1.2" stroke-linejoin="round"/>
<path d="M712.2 321.3 L727.1 304.6 L757.0 300.0 L783.0 297.8 L814.8 293.5 L835.2 286.1 L840.4 289.8 L830.6 299.1 L830.6 307.4 L833.4 314.8 L842.8 322.2 L859.5 322.2 L870.6 317.6 L877.2 312.0 L889.4 314.8 L900.5 315.7 L902.4 312.0 L908.0 312.0 L911.7 309.3 L919.2 317.6 L930.3 321.3 L945.2 322.2 L948.4 324.2 L949.4 320.0 L954.2 319.0 L954.7 311.6 L960.2 315.8 L977.6 321.0 L991.2 315.9 L996.7 308.5 L992.1 293.7 L993.0 283.5 L1002.3 270.6 L1017.2 262.2 L1024.7 265.9 L1025.6 263.1 L1035.9 263.1 L1047.0 268.7 L1069.4 265.9 L1082.5 270.6 L1095.6 277.0 L1114.2 280.7 L1138.5 288.1 L1140.3 295.6 L1160.8 317.8 L1170.1 320.6 L1181.3 336.3 L1186.9 351.1 L1187.8 369.6 L1186.0 386.3 L1199.0 378.9 L1191.5 388.1 L1179.4 390.0 L1173.8 396.5 L1181.3 397.4 L1177.5 403.0 L1170.1 403.9 L1165.4 413.1 L1175.7 417.8 L1170.1 425.5 L1186.0 419.3 L1200.9 433.1 L1196.2 443.3 L1186.0 454.4 L1177.5 451.7 L1170.1 443.3 L1164.5 449.8 L1163.6 467.4 L1147.7 473.9 L1132.8 480.4 L1119.7 485.9 L1114.2 489.6 L1106.7 493.3 L1091.8 493.3 L1076.8 484.1 L1058.2 474.8 L1046.1 468.3 L1035.9 476.7 L1022.8 481.3 L1025.6 493.3 L1013.5 500.7 L1015.3 505.4 L993.0 505.4 L976.2 511.9 L958.5 516.5 L952.0 522.0 L958.5 528.5 L955.7 533.1 L962.3 535.9 L961.3 540.0 L960.7 549.6 L956.4 564.1 L950.3 579.7 L958.8 590.6 L953.9 599.0 L943.6 596.6 L933.4 601.4 L926.1 608.6 L920.0 612.2 L921.2 617.1 L917.6 618.9 L918.8 623.1 L913.3 626.1 L917.0 629.7 L909.1 633.9 L901.9 641.1 L897.0 646.5 L895.8 644.7 L893.3 650.8 L884.8 649.6 L877.0 646.5 L872.2 649.0 L870.3 636.3 L874.6 632.1 L869.1 634.5 L859.4 642.3 L860.0 645.9 L838.8 649.0 L837.6 655.6 L835.8 647.2 L826.0 647.2 L823.0 639.9 L817.4 638.9 L800.6 644.4 L793.1 650.0 L779.1 642.6 L769.8 640.7 L761.4 631.5 L757.3 627.8 L756.8 633.3 L750.2 635.2 L741.9 647.2 L733.4 647.2 L707.3 638.0 L707.3 654.6 L703.6 655.6 L704.5 661.1 L699.9 663.0 L702.7 668.5 L696.2 668.5 L688.7 674.1 L684.1 671.3 L681.3 675.9 L673.8 673.1 L667.3 672.2 L666.4 679.6 L651.5 673.1 L644.9 670.4 L646.7 656.5 L653.3 653.7 L659.8 652.8 L659.8 645.4 L654.2 644.4 L653.3 650.0 L648.6 648.1 L646.7 652.8 L639.3 654.6 L632.7 661.1 L623.5 662.0 L617.8 659.3 L618.7 653.7 L627.2 638.9 L630.9 637.4 L651.5 639.8 L651.5 636.1 L642.1 636.1 L641.2 631.7 L626.3 634.3 L627.2 629.6 L625.3 620.4 L629.0 613.9 L630.0 604.6 L635.6 600.9 L640.2 601.9 L651.5 595.4 L657.0 598.1 L661.6 588.0 L655.2 586.1 L653.3 577.8 L661.6 575.0 L661.6 567.6 L665.4 562.0 L677.5 561.9 L686.8 558.1 L697.1 559.1 L707.3 550.7 L713.0 553.5 L713.9 548.0 L720.4 539.6 L719.4 532.2 L713.0 531.3 L712.0 521.1 L709.2 517.4 L709.2 508.1 L707.3 500.7 L697.1 496.1 L701.8 485.9 L704.5 479.4 L714.8 469.3 L723.2 460.0 L726.0 451.7 L727.0 441.5 L730.7 432.2 L738.1 419.3 L729.7 410.0 L726.2 407.4 L724.4 398.1 L726.2 370.4 L722.4 346.3 L718.7 325.9 Z" fill="#9699ae" stroke="#9699ae" stroke-width="1.2" stroke-linejoin="round"/>
<path d="M712.5 320.3 L727.4 303.6 L757.3 299.0 L783.4 296.8 L815.1 292.5 L835.5 285.1 L840.7 288.8 L830.9 298.1 L830.9 306.4 L833.7 313.8 L843.0 321.2 L859.7 321.2 L870.9 316.6 L877.4 311.0 L889.6 313.8 L900.8 314.7 L902.6 311.0 L908.2 311.0 L912.0 308.3 L919.4 316.6 L930.6 320.3 L945.5 321.2 L948.6 323.2 L949.6 319.0 L954.4 318.0 L954.9 310.6 L960.5 314.8 L977.8 320.0 L991.3 314.9 L996.9 307.5 L992.2 292.7 L993.2 282.5 L1002.5 269.6 L1017.4 261.2 L1024.8 264.9 L1025.8 262.1 L1036.0 262.1 L1047.2 267.7 L1069.5 264.9 L1082.6 269.6 L1095.7 276.0 L1114.3 279.7 L1138.5 287.1 L1140.4 294.6 L1160.9 316.8 L1170.1 319.6 L1181.4 335.3 L1186.9 350.1 L1187.8 368.6 L1186.0 385.3 L1199.0 377.9 L1191.6 387.1 L1179.5 389.0 L1173.9 395.5 L1181.4 396.4 L1177.6 402.0 L1170.1 402.9 L1165.5 412.1 L1175.8 416.8 L1170.1 424.5 L1186.0 418.3 L1200.9 432.1 L1196.3 442.3 L1186.0 453.4 L1177.6 450.7 L1170.1 442.3 L1164.6 448.8 L1163.7 466.4 L1147.8 472.9 L1132.9 479.4 L1119.8 484.9 L1114.3 488.6 L1106.8 492.3 L1092.0 492.3 L1077.0 483.1 L1058.4 473.8 L1046.3 467.3 L1036.0 475.7 L1022.9 480.3 L1025.8 492.3 L1013.7 499.7 L1015.5 504.4 L993.2 504.4 L976.4 510.9 L958.7 515.5 L952.2 521.0 L958.7 527.5 L955.9 532.1 L962.5 534.9 L961.5 539.0 L960.9 548.6 L956.6 563.1 L950.5 578.7 L959.0 589.6 L954.1 598.0 L943.9 595.6 L933.6 600.4 L926.3 607.6 L920.2 611.2 L921.4 616.1 L917.8 617.9 L919.0 622.1 L913.6 625.1 L917.2 628.7 L909.3 632.9 L902.1 640.1 L897.3 645.5 L896.1 643.7 L893.5 649.8 L885.1 648.6 L877.2 645.5 L872.4 648.0 L870.6 635.3 L874.8 631.1 L869.4 633.5 L859.6 641.3 L860.2 644.9 L839.1 648.0 L837.9 654.6 L836.1 646.2 L826.3 646.2 L823.3 638.9 L817.7 637.9 L800.9 643.4 L793.4 649.0 L779.5 641.6 L770.1 639.7 L761.7 630.5 L757.6 626.8 L757.1 632.3 L750.6 634.2 L742.2 646.2 L733.8 646.2 L707.7 637.0 L707.7 653.6 L704.0 654.6 L704.9 660.1 L700.3 662.0 L703.1 667.5 L696.5 667.5 L689.1 673.1 L684.5 670.3 L681.7 674.9 L674.2 672.1 L667.7 671.2 L666.8 678.6 L651.9 672.1 L645.3 669.4 L647.1 655.5 L653.7 652.7 L660.2 651.8 L660.2 644.4 L654.6 643.4 L653.7 649.0 L649.1 647.1 L647.1 651.8 L639.7 653.6 L633.2 660.1 L623.9 661.0 L618.3 658.3 L619.2 652.7 L627.6 637.9 L631.3 636.4 L651.9 638.8 L651.9 635.1 L642.5 635.1 L641.6 630.7 L626.7 633.3 L627.6 628.6 L625.7 619.4 L629.4 612.9 L630.4 603.6 L636.0 599.9 L640.6 600.9 L651.9 594.4 L657.4 597.1 L662.0 587.0 L655.6 585.1 L653.7 576.8 L662.0 574.0 L662.0 566.6 L665.8 561.0 L677.9 560.9 L687.2 557.1 L697.5 558.1 L707.7 549.7 L713.3 552.5 L714.3 547.0 L720.8 538.6 L719.8 531.2 L713.3 530.3 L712.3 520.1 L709.6 516.4 L709.6 507.1 L707.7 499.7 L697.5 495.1 L702.2 484.9 L704.9 478.4 L715.2 468.3 L723.6 459.0 L726.3 450.7 L727.3 440.5 L731.1 431.2 L738.5 418.3 L730.0 409.0 L726.5 406.4 L724.7 397.1 L726.5 369.4 L722.8 345.3 L719.1 324.9 Z" fill="#84879d" stroke="#84879d" stroke-width="1.2" stroke-linejoin="round"/>
<path d="M712.9 319.3 L727.8 302.6 L757.7 298.0 L783.7 295.8 L815.4 291.5 L835.8 284.1 L841.0 287.8 L831.2 297.1 L831.2 305.4 L834.0 312.8 L843.3 320.2 L860.0 320.2 L871.2 315.6 L877.7 310.0 L889.9 312.8 L901.0 313.7 L902.8 310.0 L908.5 310.0 L912.2 307.3 L919.6 315.6 L930.8 319.3 L945.7 320.2 L948.8 322.2 L949.8 318.0 L954.6 317.0 L955.1 309.6 L960.7 313.8 L978.0 319.0 L991.5 313.9 L997.1 306.5 L992.4 291.7 L993.3 281.5 L1002.7 268.6 L1017.6 260.2 L1025.0 263.9 L1025.9 261.1 L1036.2 261.1 L1047.3 266.7 L1069.7 263.9 L1082.7 268.6 L1095.8 275.0 L1114.4 278.7 L1138.6 286.1 L1140.4 293.6 L1160.9 315.8 L1170.2 318.6 L1181.5 334.3 L1187.0 349.1 L1187.9 367.6 L1186.1 384.3 L1199.1 376.9 L1191.6 386.1 L1179.5 388.0 L1173.9 394.5 L1181.5 395.4 L1177.6 401.0 L1170.2 401.9 L1165.6 411.1 L1175.8 415.8 L1170.2 423.5 L1186.1 417.3 L1201.0 431.1 L1196.3 441.3 L1186.1 452.4 L1177.6 449.7 L1170.2 441.3 L1164.7 447.8 L1163.8 465.4 L1147.9 471.9 L1133.0 478.4 L1119.9 483.9 L1114.4 487.6 L1107.0 491.3 L1092.1 491.3 L1077.1 482.1 L1058.5 472.8 L1046.4 466.3 L1036.2 474.7 L1023.1 479.3 L1025.9 491.3 L1013.8 498.7 L1015.7 503.4 L993.3 503.4 L976.5 509.9 L959.0 514.5 L952.4 520.0 L959.0 526.5 L956.1 531.1 L962.7 533.9 L961.7 538.0 L961.1 547.6 L956.8 562.1 L950.7 577.7 L959.3 588.6 L954.3 597.0 L944.1 594.6 L933.8 599.4 L926.6 606.6 L920.4 610.2 L921.6 615.1 L918.0 616.9 L919.2 621.1 L913.8 624.1 L917.4 627.7 L909.6 631.9 L902.3 639.1 L897.5 644.5 L896.3 642.7 L893.8 648.8 L885.4 647.6 L877.5 644.5 L872.7 647.0 L870.9 634.3 L875.1 630.1 L869.7 632.5 L859.9 640.3 L860.5 643.9 L839.4 647.0 L838.2 653.6 L836.4 645.2 L826.6 645.2 L823.6 637.9 L818.0 636.9 L801.2 642.4 L793.8 648.0 L779.8 640.6 L770.4 638.7 L762.1 629.5 L758.0 625.8 L757.5 631.3 L750.9 633.2 L742.6 645.2 L734.1 645.2 L708.1 636.0 L708.1 652.6 L704.4 653.6 L705.3 659.1 L700.6 661.0 L703.5 666.5 L696.9 666.5 L689.5 672.1 L684.9 669.3 L682.0 673.9 L674.6 671.1 L668.1 670.2 L667.2 677.6 L652.3 671.1 L645.8 668.4 L647.6 654.5 L654.1 651.7 L660.6 650.8 L660.6 643.4 L655.0 642.4 L654.1 648.0 L649.5 646.1 L647.6 650.8 L640.1 652.6 L633.6 659.1 L624.3 660.0 L618.7 657.3 L619.6 651.7 L628.1 636.9 L631.8 635.4 L652.3 637.8 L652.3 634.1 L642.9 634.1 L642.0 629.7 L627.2 632.3 L628.1 627.6 L626.1 618.4 L629.9 611.9 L630.9 602.6 L636.4 598.9 L641.0 599.9 L652.3 593.4 L657.8 596.1 L662.4 586.0 L656.0 584.1 L654.1 575.8 L662.4 573.0 L662.4 565.6 L666.2 560.0 L678.3 559.9 L687.6 556.1 L697.8 557.1 L708.1 548.7 L713.7 551.5 L714.6 546.0 L721.2 537.6 L720.2 530.2 L713.7 529.3 L712.7 519.1 L710.0 515.4 L710.0 506.1 L708.1 498.7 L697.8 494.1 L702.6 483.9 L705.3 477.4 L715.5 467.3 L724.0 458.0 L726.7 449.7 L727.7 439.5 L731.4 430.2 L738.9 417.3 L730.4 408.0 L726.9 405.4 L725.1 396.1 L726.9 368.4 L723.2 344.3 L719.5 323.9 Z" fill="#6e7188" stroke="#6e7188" stroke-width="1.2" stroke-linejoin="round"/>
<path d="M713.3 318.3 L728.2 301.6 L758.0 297.0 L784.0 294.8 L815.7 290.5 L836.1 283.1 L841.3 286.8 L831.5 296.1 L831.5 304.4 L834.3 311.8 L843.6 319.2 L860.3 319.2 L871.4 314.6 L878.0 309.0 L890.1 311.8 L901.3 312.7 L903.1 309.0 L908.7 309.0 L912.4 306.3 L919.9 314.6 L931.0 318.3 L945.9 319.2 L949.0 321.2 L950.0 317.0 L954.8 316.0 L955.3 308.6 L960.9 312.8 L978.1 318.0 L991.7 312.9 L997.2 305.5 L992.6 290.7 L993.5 280.5 L1002.9 267.6 L1017.7 259.2 L1025.2 262.9 L1026.1 260.1 L1036.3 260.1 L1047.5 265.7 L1069.8 262.9 L1082.8 267.6 L1095.9 274.0 L1114.5 277.7 L1138.7 285.1 L1140.5 292.6 L1161.0 314.8 L1170.3 317.6 L1181.5 333.3 L1187.0 348.1 L1187.9 366.6 L1186.1 383.3 L1199.1 375.9 L1191.7 385.1 L1179.6 387.0 L1174.0 393.5 L1181.5 394.4 L1177.7 400.0 L1170.3 400.9 L1165.6 410.1 L1175.9 414.8 L1170.3 422.5 L1186.1 416.3 L1201.0 430.1 L1196.4 440.3 L1186.1 451.4 L1177.7 448.7 L1170.3 440.3 L1164.7 446.8 L1163.8 464.4 L1148.0 470.9 L1133.1 477.4 L1120.0 482.9 L1114.5 486.6 L1107.1 490.3 L1092.2 490.3 L1077.2 481.1 L1058.6 471.8 L1046.6 465.3 L1036.3 473.7 L1023.3 478.3 L1026.1 490.3 L1014.0 497.7 L1015.8 502.4 L993.5 502.4 L976.7 508.9 L959.2 513.5 L952.6 519.0 L959.2 525.5 L956.3 530.1 L962.9 532.9 L961.9 537.0 L961.3 546.6 L957.0 561.1 L950.9 576.7 L959.5 587.6 L954.5 596.0 L944.3 593.6 L934.0 598.4 L926.8 605.6 L920.7 609.2 L921.9 614.1 L918.3 615.9 L919.5 620.1 L914.0 623.1 L917.7 626.7 L909.8 630.9 L902.6 638.1 L897.8 643.5 L896.6 641.7 L894.0 647.8 L885.6 646.6 L877.8 643.5 L872.9 646.0 L871.1 633.3 L875.4 629.1 L869.9 631.5 L860.2 639.3 L860.8 642.9 L839.7 646.0 L838.5 652.6 L836.7 644.2 L826.9 644.2 L823.9 636.9 L818.3 635.9 L801.5 641.4 L794.1 647.0 L780.1 639.6 L770.8 637.7 L762.4 628.5 L758.3 624.8 L757.8 630.3 L751.3 632.2 L742.9 644.2 L734.5 644.2 L708.5 635.0 L708.5 651.6 L704.7 652.6 L705.7 658.1 L701.0 660.0 L703.8 665.5 L697.3 665.5 L689.9 671.1 L685.3 668.3 L682.4 672.9 L675.0 670.1 L668.5 669.2 L667.6 676.6 L652.7 670.1 L646.2 667.4 L648.0 653.5 L654.5 650.7 L661.0 649.8 L661.0 642.4 L655.4 641.4 L654.5 647.0 L649.9 645.1 L648.0 649.8 L640.5 651.6 L634.0 658.1 L624.8 659.0 L619.1 656.3 L620.0 650.7 L628.5 635.9 L632.2 634.4 L652.7 636.8 L652.7 633.1 L643.4 633.1 L642.5 628.7 L627.6 631.3 L628.5 626.6 L626.6 617.4 L630.3 610.9 L631.3 601.6 L636.8 597.9 L641.4 598.9 L652.7 592.4 L658.2 595.1 L662.8 585.0 L656.4 583.1 L654.5 574.8 L662.8 572.0 L662.8 564.6 L666.6 559.0 L678.7 558.9 L688.0 555.1 L698.2 556.1 L708.5 547.7 L714.1 550.5 L715.0 545.0 L721.5 536.6 L720.5 529.2 L714.1 528.3 L713.1 518.1 L710.4 514.4 L710.4 505.1 L708.5 497.7 L698.2 493.1 L702.9 482.9 L705.7 476.4 L715.9 466.3 L724.3 457.0 L727.1 448.7 L728.1 438.5 L731.8 429.2 L739.2 416.3 L730.8 407.0 L727.3 404.4 L725.4 395.1 L727.3 367.4 L723.5 343.3 L719.8 322.9 Z" fill="#595c72" stroke="#595c72" stroke-width="1.2" stroke-linejoin="round"/>
<path d="M713.7 317.3 L728.5 300.6 L758.3 296.0 L784.3 293.8 L816.0 289.5 L836.4 282.1 L841.6 285.8 L831.7 295.1 L831.7 303.4 L834.6 310.8 L843.9 318.2 L860.6 318.2 L871.7 313.6 L878.2 308.0 L890.4 310.8 L901.5 311.7 L903.3 308.0 L909.0 308.0 L912.7 305.3 L920.1 313.6 L931.2 317.3 L946.1 318.2 L949.2 320.2 L950.2 316.0 L955.0 315.0 L955.5 307.6 L961.1 311.8 L978.3 317.0 L991.9 311.9 L997.4 304.5 L992.8 289.7 L993.7 279.5 L1003.0 266.6 L1017.9 258.2 L1025.3 261.9 L1026.2 259.1 L1036.5 259.1 L1047.6 264.7 L1069.9 261.9 L1083.0 266.6 L1096.0 273.0 L1114.6 276.7 L1138.8 284.1 L1140.6 291.6 L1161.1 313.8 L1170.3 316.6 L1181.6 332.3 L1187.1 347.1 L1188.0 365.6 L1186.2 382.3 L1199.1 374.9 L1191.7 384.1 L1179.7 386.0 L1174.0 392.5 L1181.6 393.4 L1177.8 399.0 L1170.3 399.9 L1165.7 409.1 L1175.9 413.8 L1170.3 421.5 L1186.2 415.3 L1201.0 429.1 L1196.4 439.3 L1186.2 450.4 L1177.8 447.7 L1170.3 439.3 L1164.8 445.8 L1163.9 463.4 L1148.0 469.9 L1133.2 476.4 L1120.1 481.9 L1114.6 485.6 L1107.2 489.3 L1092.3 489.3 L1077.3 480.1 L1058.8 470.8 L1046.7 464.3 L1036.5 472.7 L1023.4 477.3 L1026.2 489.3 L1014.2 496.7 L1016.0 501.4 L993.7 501.4 L976.9 507.9 L959.4 512.5 L952.8 518.0 L959.4 524.5 L956.6 529.1 L963.1 531.9 L962.1 536.0 L961.5 545.6 L957.3 560.1 L951.1 575.7 L959.7 586.6 L954.7 595.0 L944.5 592.6 L934.3 597.4 L927.0 604.6 L920.9 608.2 L922.1 613.1 L918.5 614.9 L919.7 619.1 L914.3 622.1 L917.9 625.7 L910.1 629.9 L902.8 637.1 L898.0 642.5 L896.8 640.7 L894.3 646.8 L885.9 645.6 L878.0 642.5 L873.2 645.0 L871.4 632.3 L875.6 628.1 L870.2 630.5 L860.5 638.3 L861.1 641.9 L840.0 645.0 L838.8 651.6 L837.0 643.2 L827.2 643.2 L824.2 635.9 L818.6 634.9 L801.8 640.4 L794.4 646.0 L780.4 638.6 L771.1 636.7 L762.8 627.5 L758.6 623.8 L758.1 629.3 L751.6 631.2 L743.3 643.2 L734.8 643.2 L708.8 634.0 L708.8 650.6 L705.1 651.6 L706.0 657.1 L701.4 659.0 L704.2 664.5 L697.7 664.5 L690.3 670.1 L685.6 667.3 L682.8 671.9 L675.4 669.1 L668.9 668.2 L668.0 675.6 L653.1 669.1 L646.6 666.4 L648.4 652.5 L654.9 649.7 L661.4 648.8 L661.4 641.4 L655.8 640.4 L654.9 646.0 L650.3 644.1 L648.4 648.8 L641.0 650.6 L634.4 657.1 L625.2 658.0 L619.6 655.3 L620.5 649.7 L628.9 634.9 L632.6 633.4 L653.1 635.8 L653.1 632.1 L643.8 632.1 L642.9 627.7 L628.0 630.3 L628.9 625.6 L627.0 616.4 L630.7 609.9 L631.7 600.6 L637.3 596.9 L641.9 597.9 L653.1 591.4 L658.6 594.1 L663.3 584.0 L656.8 582.1 L654.9 573.8 L663.3 571.0 L663.3 563.6 L667.0 558.0 L679.1 557.9 L688.4 554.1 L698.6 555.1 L708.8 546.7 L714.5 549.5 L715.4 544.0 L721.9 535.6 L720.9 528.2 L714.5 527.3 L713.5 517.1 L710.8 513.4 L710.8 504.1 L708.8 496.7 L698.6 492.1 L703.3 481.9 L706.0 475.4 L716.3 465.3 L724.7 456.0 L727.4 447.7 L728.4 437.5 L732.1 428.2 L739.6 415.3 L731.1 406.0 L727.6 403.4 L725.8 394.1 L727.6 366.4 L723.9 342.3 L720.2 321.9 Z" fill="#474a5f" stroke="#474a5f" stroke-width="1.2" stroke-linejoin="round"/>
<path d="M714.0 316.3 L728.9 299.6 L758.7 295.0 L784.7 292.8 L816.3 288.5 L836.7 281.1 L841.9 284.8 L832.0 294.1 L832.0 302.4 L834.8 309.8 L844.2 317.2 L860.8 317.2 L872.0 312.6 L878.5 307.0 L890.6 309.8 L901.8 310.7 L903.6 307.0 L909.2 307.0 L912.9 304.3 L920.3 312.6 L931.5 316.3 L946.3 317.2 L949.4 319.2 L950.4 315.0 L955.3 314.0 L955.8 306.6 L961.3 310.8 L978.5 316.0 L992.1 310.9 L997.6 303.5 L993.0 288.7 L993.9 278.5 L1003.2 265.6 L1018.1 257.2 L1025.5 260.9 L1026.4 258.1 L1036.6 258.1 L1047.8 263.7 L1070.0 260.9 L1083.1 265.6 L1096.1 272.0 L1114.7 275.7 L1138.9 283.1 L1140.7 290.6 L1161.2 312.8 L1170.4 315.6 L1181.6 331.3 L1187.1 346.1 L1188.0 364.6 L1186.2 381.3 L1199.2 373.9 L1191.8 383.1 L1179.7 385.0 L1174.1 391.5 L1181.6 392.4 L1177.8 398.0 L1170.4 398.9 L1165.8 408.1 L1176.0 412.8 L1170.4 420.5 L1186.2 414.3 L1201.1 428.1 L1196.5 438.3 L1186.2 449.4 L1177.8 446.7 L1170.4 438.3 L1164.9 444.8 L1164.0 462.4 L1148.1 468.9 L1133.3 475.4 L1120.2 480.9 L1114.7 484.6 L1107.3 488.3 L1092.4 488.3 L1077.5 479.1 L1058.9 469.8 L1046.9 463.3 L1036.6 471.7 L1023.6 476.3 L1026.4 488.3 L1014.4 495.7 L1016.2 500.4 L993.9 500.4 L977.1 506.9 L959.6 511.5 L953.0 517.0 L959.6 523.5 L956.8 528.1 L963.3 530.9 L962.3 535.0 L961.7 544.6 L957.5 559.1 L951.3 574.7 L959.9 585.6 L955.0 594.0 L944.7 591.6 L934.5 596.4 L927.3 603.6 L921.1 607.2 L922.3 612.1 L918.7 613.9 L919.9 618.1 L914.5 621.1 L918.1 624.7 L910.3 628.9 L903.1 636.1 L898.3 641.5 L897.1 639.7 L894.5 645.8 L886.1 644.6 L878.3 641.5 L873.5 644.0 L871.7 631.3 L875.9 627.1 L870.5 629.5 L860.7 637.3 L861.3 640.9 L840.3 644.0 L839.1 650.6 L837.3 642.2 L827.5 642.2 L824.5 634.9 L818.9 633.9 L802.1 639.4 L794.7 645.0 L780.8 637.6 L771.4 635.7 L763.1 626.5 L759.0 622.8 L758.5 628.3 L752.0 630.2 L743.6 642.2 L735.2 642.2 L709.2 633.0 L709.2 649.6 L705.5 650.6 L706.4 656.1 L701.8 658.0 L704.6 663.5 L698.1 663.5 L690.7 669.1 L686.0 666.3 L683.2 670.9 L675.8 668.1 L669.3 667.2 L668.4 674.6 L653.5 668.1 L647.0 665.4 L648.8 651.5 L655.3 648.7 L661.9 647.8 L661.9 640.4 L656.2 639.4 L655.3 645.0 L650.7 643.1 L648.8 647.8 L641.4 649.6 L634.9 656.1 L625.6 657.0 L620.0 654.3 L620.9 648.7 L629.3 633.9 L633.1 632.4 L653.5 634.8 L653.5 631.1 L644.2 631.1 L643.3 626.7 L628.4 629.3 L629.3 624.6 L627.4 615.4 L631.2 608.9 L632.2 599.6 L637.7 595.9 L642.3 596.9 L653.5 590.4 L659.0 593.1 L663.7 583.0 L657.2 581.1 L655.3 572.8 L663.7 570.0 L663.7 562.6 L667.4 557.0 L679.5 556.9 L688.7 553.1 L699.0 554.1 L709.2 545.7 L714.8 548.5 L715.7 543.0 L722.3 534.6 L721.3 527.2 L714.8 526.3 L713.8 516.1 L711.1 512.4 L711.1 503.1 L709.2 495.7 L699.0 491.1 L703.7 480.9 L706.4 474.4 L716.6 464.3 L725.1 455.0 L727.8 446.7 L728.8 436.5 L732.5 427.2 L739.9 414.3 L731.5 405.0 L728.0 402.4 L726.2 393.1 L728.0 365.4 L724.3 341.3 L720.6 320.9 Z" fill="#363849" stroke="#363849" stroke-width="1.2" stroke-linejoin="round"/>
<path d="M714.4 315.3 L729.2 298.6 L759.0 294.0 L785.0 291.8 L816.6 287.5 L836.9 280.1 L842.2 283.8 L832.3 293.1 L832.3 301.4 L835.1 308.8 L844.5 316.2 L861.1 316.2 L872.2 311.6 L878.8 306.0 L890.9 308.8 L902.0 309.7 L903.8 306.0 L909.4 306.0 L913.1 303.3 L920.6 311.6 L931.7 315.3 L946.5 316.2 L949.6 318.2 L950.7 314.0 L955.5 313.0 L956.0 305.6 L961.5 309.8 L978.7 315.0 L992.3 309.9 L997.8 302.5 L993.2 287.7 L994.1 277.5 L1003.4 264.6 L1018.2 256.2 L1025.7 259.9 L1026.6 257.1 L1036.8 257.1 L1047.9 262.7 L1070.2 259.9 L1083.2 264.6 L1096.2 271.0 L1114.8 274.7 L1139.0 282.1 L1140.8 289.6 L1161.2 311.8 L1170.4 314.6 L1181.7 330.3 L1187.2 345.1 L1188.1 363.6 L1186.3 380.3 L1199.2 372.9 L1191.8 382.1 L1179.8 384.0 L1174.2 390.5 L1181.7 391.4 L1177.9 397.0 L1170.4 397.9 L1165.8 407.1 L1176.1 411.8 L1170.4 419.5 L1186.3 413.3 L1201.1 427.1 L1196.5 437.3 L1186.3 448.4 L1177.9 445.7 L1170.4 437.3 L1164.9 443.8 L1164.0 461.4 L1148.2 467.9 L1133.3 474.4 L1120.3 479.9 L1114.8 483.6 L1107.4 487.3 L1092.5 487.3 L1077.6 478.1 L1059.0 468.8 L1047.0 462.3 L1036.8 470.7 L1023.7 475.3 L1026.6 487.3 L1014.5 494.7 L1016.3 499.4 L994.1 499.4 L977.3 505.9 L959.8 510.5 L953.3 516.0 L959.8 522.5 L957.0 527.1 L963.5 529.9 L962.5 534.0 L961.9 543.6 L957.7 558.1 L951.6 573.7 L960.1 584.6 L955.2 593.0 L944.9 590.6 L934.7 595.4 L927.5 602.6 L921.4 606.2 L922.6 611.1 L919.0 612.9 L920.2 617.1 L914.8 620.1 L918.4 623.7 L910.5 627.9 L903.3 635.1 L898.5 640.5 L897.3 638.7 L894.8 644.8 L886.4 643.6 L878.6 640.5 L873.7 643.0 L871.9 630.3 L876.1 626.1 L870.7 628.5 L861.0 636.3 L861.6 639.9 L840.6 643.0 L839.3 649.6 L837.5 641.2 L827.8 641.2 L824.8 633.9 L819.2 632.9 L802.4 638.4 L795.0 644.0 L781.1 636.6 L771.8 634.7 L763.4 625.5 L759.3 621.8 L758.8 627.3 L752.3 629.2 L744.0 641.2 L735.6 641.2 L709.6 632.0 L709.6 648.6 L705.9 649.6 L706.8 655.1 L702.2 657.0 L705.0 662.5 L698.5 662.5 L691.0 668.1 L686.4 665.3 L683.6 669.9 L676.2 667.1 L669.7 666.2 L668.8 673.6 L653.9 667.1 L647.4 664.4 L649.2 650.5 L655.7 647.7 L662.3 646.8 L662.3 639.4 L656.7 638.4 L655.7 644.0 L651.1 642.1 L649.2 646.8 L641.8 648.6 L635.3 655.1 L626.1 656.0 L620.5 653.3 L621.4 647.7 L629.8 632.9 L633.5 631.4 L653.9 633.8 L653.9 630.1 L644.6 630.1 L643.7 625.7 L628.9 628.3 L629.8 623.6 L627.9 614.4 L631.6 607.9 L632.6 598.6 L638.1 594.9 L642.7 595.9 L653.9 589.4 L659.5 592.1 L664.1 582.0 L657.7 580.1 L655.7 571.8 L664.1 569.0 L664.1 561.6 L667.8 556.0 L679.9 555.9 L689.1 552.1 L699.4 553.1 L709.6 544.7 L715.2 547.5 L716.1 542.0 L722.6 533.6 L721.6 526.2 L715.2 525.3 L714.2 515.1 L711.5 511.4 L711.5 502.1 L709.6 494.7 L699.4 490.1 L704.1 479.9 L706.8 473.4 L717.0 463.3 L725.4 454.0 L728.1 445.7 L729.1 435.5 L732.9 426.2 L740.3 413.3 L731.9 404.0 L728.3 401.4 L726.5 392.1 L728.3 364.4 L724.6 340.3 L720.9 319.9 Z" fill="#282a3a" stroke="#282a3a" stroke-width="1.2" stroke-linejoin="round"/>
<path d="M714.8 314.3 L729.6 297.6 L759.4 293.0 L785.3 290.8 L816.9 286.5 L837.2 279.1 L842.4 282.8 L832.6 292.1 L832.6 300.4 L835.4 307.8 L844.7 315.2 L861.4 315.2 L872.5 310.6 L879.0 305.0 L891.1 307.8 L902.3 308.7 L904.1 305.0 L909.7 305.0 L913.4 302.3 L920.8 310.6 L931.9 314.3 L946.8 315.2 L949.9 317.2 L950.9 313.0 L955.7 312.0 L956.2 304.6 L961.7 308.8 L978.9 314.0 L992.4 308.9 L998.0 301.5 L993.3 286.7 L994.3 276.5 L1003.6 263.6 L1018.4 255.2 L1025.8 258.9 L1026.7 256.1 L1036.9 256.1 L1048.1 261.7 L1070.3 258.9 L1083.3 263.6 L1096.4 270.0 L1114.9 273.7 L1139.0 281.1 L1140.9 288.6 L1161.3 310.8 L1170.5 313.6 L1181.7 329.3 L1187.2 344.1 L1188.1 362.6 L1186.3 379.3 L1199.3 371.9 L1191.9 381.1 L1179.8 383.0 L1174.2 389.5 L1181.7 390.4 L1177.9 396.0 L1170.5 396.9 L1165.9 406.1 L1176.1 410.8 L1170.5 418.5 L1186.3 412.3 L1201.2 426.1 L1196.6 436.3 L1186.3 447.4 L1177.9 444.7 L1170.5 436.3 L1165.0 442.8 L1164.1 460.4 L1148.3 466.9 L1133.4 473.4 L1120.4 478.9 L1114.9 482.6 L1107.5 486.3 L1092.7 486.3 L1077.7 477.1 L1059.2 467.8 L1047.2 461.3 L1036.9 469.7 L1023.9 474.3 L1026.7 486.3 L1014.7 493.7 L1016.5 498.4 L994.3 498.4 L977.5 504.9 L960.0 509.5 L953.5 515.0 L960.0 521.5 L957.2 526.1 L963.7 528.9 L962.7 533.0 L962.1 542.6 L957.9 557.1 L951.8 572.7 L960.3 583.6 L955.4 592.0 L945.2 589.6 L934.9 594.4 L927.7 601.6 L921.6 605.2 L922.8 610.1 L919.2 611.9 L920.4 616.1 L915.0 619.1 L918.6 622.7 L910.8 626.9 L903.6 634.1 L898.8 639.5 L897.6 637.7 L895.0 643.8 L886.6 642.6 L878.8 639.5 L874.0 642.0 L872.2 629.3 L876.4 625.1 L871.0 627.5 L861.3 635.3 L861.9 638.9 L840.8 642.0 L839.6 648.6 L837.8 640.2 L828.1 640.2 L825.1 632.9 L819.5 631.9 L802.8 637.4 L795.3 643.0 L781.4 635.6 L772.1 633.7 L763.8 624.5 L759.7 620.8 L759.2 626.3 L752.7 628.2 L744.3 640.2 L735.9 640.2 L710.0 631.0 L710.0 647.6 L706.3 648.6 L707.2 654.1 L702.6 656.0 L705.4 661.5 L698.8 661.5 L691.4 667.1 L686.8 664.3 L684.0 668.9 L676.6 666.1 L670.1 665.2 L669.2 672.6 L654.4 666.1 L647.8 663.4 L649.6 649.5 L656.2 646.7 L662.7 645.8 L662.7 638.4 L657.1 637.4 L656.2 643.0 L651.6 641.1 L649.6 645.8 L642.2 647.6 L635.7 654.1 L626.5 655.0 L620.9 652.3 L621.8 646.7 L630.2 631.9 L633.9 630.4 L654.4 632.8 L654.4 629.1 L645.0 629.1 L644.1 624.7 L629.3 627.3 L630.2 622.6 L628.3 613.4 L632.0 606.9 L633.0 597.6 L638.5 593.9 L643.1 594.9 L654.4 588.4 L659.9 591.1 L664.5 581.0 L658.1 579.1 L656.2 570.8 L664.5 568.0 L664.5 560.6 L668.2 555.0 L680.3 554.9 L689.5 551.1 L699.8 552.1 L710.0 543.7 L715.6 546.5 L716.5 541.0 L723.0 532.6 L722.0 525.2 L715.6 524.3 L714.6 514.1 L711.9 510.4 L711.9 501.1 L710.0 493.7 L699.8 489.1 L704.5 478.9 L707.2 472.4 L717.4 462.3 L725.8 453.0 L728.5 444.7 L729.5 434.5 L733.2 425.2 L740.6 412.3 L732.2 403.0 L728.7 400.4 L726.9 391.1 L728.7 363.4 L725.0 339.3 L721.3 318.9 Z" fill="#1b1c2a" stroke="#1b1c2a" stroke-width="1.2" stroke-linejoin="round"/>
<path d="M715.2 313.3 L730.0 296.6 L759.7 292.0 L785.6 289.8 L817.2 285.5 L837.5 278.1 L842.7 281.8 L832.9 291.1 L832.9 299.4 L835.7 306.8 L845.0 314.2 L861.7 314.2 L872.8 309.6 L879.3 304.0 L891.4 306.8 L902.5 307.7 L904.3 304.0 L909.9 304.0 L913.6 301.3 L921.0 309.6 L932.1 313.3 L947.0 314.2 L950.1 316.2 L951.1 312.0 L955.9 311.0 L956.4 303.6 L961.9 307.8 L979.1 313.0 L992.6 307.9 L998.1 300.5 L993.5 285.7 L994.4 275.5 L1003.7 262.6 L1018.6 254.2 L1026.0 257.9 L1026.9 255.1 L1037.1 255.1 L1048.2 260.7 L1070.4 257.9 L1083.5 262.6 L1096.5 269.0 L1115.0 272.7 L1139.1 280.1 L1140.9 287.6 L1161.4 309.8 L1170.6 312.6 L1181.8 328.3 L1187.3 343.1 L1188.2 361.6 L1186.4 378.3 L1199.3 370.9 L1191.9 380.1 L1179.9 382.0 L1174.3 388.5 L1181.8 389.4 L1178.0 395.0 L1170.6 395.9 L1166.0 405.1 L1176.2 409.8 L1170.6 417.5 L1186.4 411.3 L1201.2 425.1 L1196.6 435.3 L1186.4 446.4 L1178.0 443.7 L1170.6 435.3 L1165.1 441.8 L1164.2 459.4 L1148.3 465.9 L1133.5 472.4 L1120.5 477.9 L1115.0 481.6 L1107.6 485.3 L1092.8 485.3 L1077.8 476.1 L1059.3 466.8 L1047.3 460.3 L1037.1 468.7 L1024.1 473.3 L1026.9 485.3 L1014.9 492.7 L1016.7 497.4 L994.4 497.4 L977.7 503.9 L960.2 508.5 L953.7 514.0 L960.2 520.5 L957.4 525.1 L963.9 527.9 L962.9 532.0 L962.3 541.6 L958.1 556.1 L952.0 571.7 L960.5 582.6 L955.6 591.0 L945.4 588.6 L935.2 593.4 L927.9 600.6 L921.8 604.2 L923.0 609.1 L919.4 610.9 L920.6 615.1 L915.2 618.1 L918.8 621.7 L911.0 625.9 L903.8 633.1 L899.0 638.5 L897.8 636.7 L895.3 642.8 L886.9 641.6 L879.1 638.5 L874.3 641.0 L872.5 628.3 L876.7 624.1 L871.3 626.5 L861.6 634.3 L862.2 637.9 L841.1 641.0 L839.9 647.6 L838.1 639.2 L828.4 639.2 L825.4 631.9 L819.8 630.9 L803.1 636.4 L795.7 642.0 L781.7 634.6 L772.4 632.7 L764.1 623.5 L760.0 619.8 L759.5 625.3 L753.0 627.2 L744.7 639.2 L736.3 639.2 L710.3 630.0 L710.3 646.6 L706.6 647.6 L707.5 653.1 L702.9 655.0 L705.7 660.5 L699.2 660.5 L691.8 666.1 L687.2 663.3 L684.4 667.9 L677.0 665.1 L670.5 664.2 L669.6 671.6 L654.8 665.1 L648.3 662.4 L650.1 648.5 L656.6 645.7 L663.1 644.8 L663.1 637.4 L657.5 636.4 L656.6 642.0 L652.0 640.1 L650.1 644.8 L642.7 646.6 L636.1 653.1 L626.9 654.0 L621.3 651.3 L622.2 645.7 L630.6 630.9 L634.3 629.4 L654.8 631.8 L654.8 628.1 L645.5 628.1 L644.6 623.7 L629.7 626.3 L630.6 621.6 L628.7 612.4 L632.4 605.9 L633.4 596.6 L639.0 592.9 L643.6 593.9 L654.8 587.4 L660.3 590.1 L664.9 580.0 L658.5 578.1 L656.6 569.8 L664.9 567.0 L664.9 559.6 L668.6 554.0 L680.7 553.9 L689.9 550.1 L700.1 551.1 L710.3 542.7 L716.0 545.5 L716.9 540.0 L723.4 531.6 L722.4 524.2 L716.0 523.3 L715.0 513.1 L712.2 509.4 L712.2 500.1 L710.3 492.7 L700.1 488.1 L704.8 477.9 L707.5 471.4 L717.8 461.3 L726.2 452.0 L728.9 443.7 L729.9 433.5 L733.6 424.2 L741.0 411.3 L732.6 402.0 L729.1 399.4 L727.3 390.1 L729.1 362.4 L725.4 338.3 L721.7 317.9 Z" fill="#12121c" stroke="#12121c" stroke-width="1.2" stroke-linejoin="round"/>
<path d="M715.5 312.3 L730.3 295.6 L760.1 291.0 L786.0 288.8 L817.5 284.5 L837.8 277.1 L843.0 280.8 L833.2 290.1 L833.2 298.4 L836.0 305.8 L845.3 313.2 L861.9 313.2 L873.0 308.6 L879.5 303.0 L891.6 305.8 L902.8 306.7 L904.6 303.0 L910.2 303.0 L913.9 300.3 L921.3 308.6 L932.4 312.3 L947.2 313.2 L950.3 315.2 L951.3 311.0 L956.1 310.0 L956.6 302.6 L962.1 306.8 L979.3 312.0 L992.8 306.9 L998.3 299.5 L993.7 284.7 L994.6 274.5 L1003.9 261.6 L1018.7 253.2 L1026.1 256.9 L1027.0 254.1 L1037.2 254.1 L1048.4 259.7 L1070.6 256.9 L1083.6 261.6 L1096.6 268.0 L1115.1 271.7 L1139.2 279.1 L1141.0 286.6 L1161.4 308.8 L1170.6 311.6 L1181.8 327.3 L1187.3 342.1 L1188.2 360.6 L1186.4 377.3 L1199.4 369.9 L1192.0 379.1 L1179.9 381.0 L1174.3 387.5 L1181.8 388.4 L1178.0 394.0 L1170.6 394.9 L1166.0 404.1 L1176.2 408.8 L1170.6 416.5 L1186.4 410.3 L1201.3 424.1 L1196.7 434.3 L1186.4 445.4 L1178.0 442.7 L1170.6 434.3 L1165.1 440.8 L1164.2 458.4 L1148.4 464.9 L1133.6 471.4 L1120.6 476.9 L1115.1 480.6 L1107.7 484.3 L1092.9 484.3 L1078.0 475.1 L1059.5 465.8 L1047.5 459.3 L1037.2 467.7 L1024.2 472.3 L1027.0 484.3 L1015.0 491.7 L1016.8 496.4 L994.6 496.4 L977.9 502.9 L960.4 507.5 L953.9 513.0 L960.4 519.5 L957.6 524.1 L964.1 526.9 L963.1 531.0 L962.5 540.6 L958.3 555.1 L952.2 570.7 L960.7 581.6 L955.8 590.0 L945.6 587.6 L935.4 592.4 L928.2 599.6 L922.1 603.2 L923.3 608.1 L919.7 609.9 L920.9 614.1 L915.5 617.1 L919.1 620.7 L911.3 624.9 L904.1 632.1 L899.3 637.5 L898.1 635.7 L895.5 641.8 L887.1 640.6 L879.3 637.5 L874.5 640.0 L872.7 627.3 L876.9 623.1 L871.5 625.5 L861.8 633.3 L862.4 636.9 L841.4 640.0 L840.2 646.6 L838.4 638.2 L828.7 638.2 L825.7 630.9 L820.1 629.9 L803.4 635.4 L796.0 641.0 L782.1 633.6 L772.8 631.7 L764.5 622.5 L760.4 618.8 L759.9 624.3 L753.4 626.2 L745.0 638.2 L736.6 638.2 L710.7 629.0 L710.7 645.6 L707.0 646.6 L707.9 652.1 L703.3 654.0 L706.1 659.5 L699.6 659.5 L692.2 665.1 L687.6 662.3 L684.8 666.9 L677.4 664.1 L670.9 663.2 L670.0 670.6 L655.2 664.1 L648.7 661.4 L650.5 647.5 L657.0 644.7 L663.5 643.8 L663.5 636.4 L657.9 635.4 L657.0 641.0 L652.4 639.1 L650.5 643.8 L643.1 645.6 L636.6 652.1 L627.4 653.0 L621.8 650.3 L622.7 644.7 L631.1 629.9 L634.8 628.4 L655.2 630.8 L655.2 627.1 L645.9 627.1 L645.0 622.7 L630.2 625.3 L631.1 620.6 L629.2 611.4 L632.9 604.9 L633.9 595.6 L639.4 591.9 L644.0 592.9 L655.2 586.4 L660.7 589.1 L665.3 579.0 L658.9 577.1 L657.0 568.8 L665.3 566.0 L665.3 558.6 L669.0 553.0 L681.1 552.9 L690.3 549.1 L700.5 550.1 L710.7 541.7 L716.3 544.5 L717.2 539.0 L723.7 530.6 L722.7 523.2 L716.3 522.3 L715.3 512.1 L712.6 508.4 L712.6 499.1 L710.7 491.7 L700.5 487.1 L705.2 476.9 L707.9 470.4 L718.1 460.3 L726.5 451.0 L729.2 442.7 L730.2 432.5 L733.9 423.2 L741.3 410.3 L732.9 401.0 L729.4 398.4 L727.6 389.1 L729.4 361.4 L725.7 337.3 L722.0 316.9 Z" fill="#0b0b13" stroke="#0b0b13" stroke-width="1.2" stroke-linejoin="round"/>
<path d="M715.9 311.3 L730.7 294.6 L760.4 290.0 L786.3 287.8 L817.8 283.5 L838.1 276.1 L843.3 279.8 L833.5 289.1 L833.5 297.4 L836.3 304.8 L845.6 312.2 L862.2 312.2 L873.3 307.6 L879.8 302.0 L891.9 304.8 L903.0 305.7 L904.8 302.0 L910.4 302.0 L914.1 299.3 L921.5 307.6 L932.6 311.3 L947.4 312.2 L950.5 314.2 L951.5 310.0 L956.3 309.0 L956.8 301.6 L962.3 305.8 L979.5 311.0 L993.0 305.9 L998.5 298.5 L993.9 283.7 L994.8 273.5 L1004.1 260.6 L1018.9 252.2 L1026.3 255.9 L1027.2 253.1 L1037.4 253.1 L1048.5 258.7 L1070.7 255.9 L1083.7 260.6 L1096.7 267.0 L1115.2 270.7 L1139.3 278.1 L1141.1 285.6 L1161.5 307.8 L1170.7 310.6 L1181.9 326.3 L1187.4 341.1 L1188.3 359.6 L1186.5 376.3 L1199.4 368.9 L1192.0 378.1 L1180.0 380.0 L1174.4 386.5 L1181.9 387.4 L1178.1 393.0 L1170.7 393.9 L1166.1 403.1 L1176.3 407.8 L1170.7 415.5 L1186.5 409.3 L1201.3 423.1 L1196.7 433.3 L1186.5 444.4 L1178.1 441.7 L1170.7 433.3 L1165.2 439.8 L1164.3 457.4 L1148.5 463.9 L1133.7 470.4 L1120.7 475.9 L1115.2 479.6 L1107.8 483.3 L1093.0 483.3 L1078.1 474.1 L1059.6 464.8 L1047.6 458.3 L1037.4 466.7 L1024.4 471.3 L1027.2 483.3 L1015.2 490.7 L1017.0 495.4 L994.8 495.4 L978.1 501.9 L960.6 506.5 L954.1 512.0 L960.6 518.5 L957.8 523.1 L964.3 525.9 L963.3 530.0 L962.7 539.6 L958.5 554.1 L952.4 569.7 L960.9 580.6 L956.0 589.0 L945.8 586.6 L935.6 591.4 L928.4 598.6 L922.3 602.2 L923.5 607.1 L919.9 608.9 L921.1 613.1 L915.7 616.1 L919.3 619.7 L911.5 623.9 L904.3 631.1 L899.5 636.5 L898.3 634.7 L895.8 640.8 L887.4 639.6 L879.6 636.5 L874.8 639.0 L873.0 626.3 L877.2 622.1 L871.8 624.5 L862.1 632.3 L862.7 635.9 L841.7 639.0 L840.5 645.6 L838.7 637.2 L829.0 637.2 L826.0 629.9 L820.4 628.9 L803.7 634.4 L796.3 640.0 L782.4 632.6 L773.1 630.7 L764.8 621.5 L760.7 617.8 L760.2 623.3 L753.7 625.2 L745.4 637.2 L737.0 637.2 L711.1 628.0 L711.1 644.6 L707.4 645.6 L708.3 651.1 L703.7 653.0 L706.5 658.5 L700.0 658.5 L692.6 664.1 L688.0 661.3 L685.2 665.9 L677.8 663.1 L671.3 662.2 L670.4 669.6 L655.6 663.1 L649.1 660.4 L650.9 646.5 L657.4 643.7 L663.9 642.8 L663.9 635.4 L658.3 634.4 L657.4 640.0 L652.8 638.1 L650.9 642.8 L643.5 644.6 L637.0 651.1 L627.8 652.0 L622.2 649.3 L623.1 643.7 L631.5 628.9 L635.2 627.4 L655.6 629.8 L655.6 626.1 L646.3 626.1 L645.4 621.7 L630.6 624.3 L631.5 619.6 L629.6 610.4 L633.3 603.9 L634.3 594.6 L639.8 590.9 L644.4 591.9 L655.6 585.4 L661.1 588.1 L665.7 578.0 L659.3 576.1 L657.4 567.8 L665.7 565.0 L665.7 557.6 L669.4 552.0 L681.5 551.9 L690.7 548.1 L700.9 549.1 L711.1 540.7 L716.7 543.5 L717.6 538.0 L724.1 529.6 L723.1 522.2 L716.7 521.3 L715.7 511.1 L713.0 507.4 L713.0 498.1 L711.1 490.7 L700.9 486.1 L705.6 475.9 L708.3 469.4 L718.5 459.3 L726.9 450.0 L729.6 441.7 L730.6 431.5 L734.3 422.2 L741.7 409.3 L733.3 400.0 L729.8 397.4 L728.0 388.1 L729.8 360.4 L726.1 336.3 L722.4 315.9 Z" fill="url(#mfill)"/>
<path d="M715.9 311.3 L730.7 294.6 L760.4 290.0 L786.3 287.8 L817.8 283.5 L838.1 276.1 L843.3 279.8 L833.5 289.1 L833.5 297.4 L836.3 304.8 L845.6 312.2 L862.2 312.2 L873.3 307.6 L879.8 302.0 L891.9 304.8 L903.0 305.7 L904.8 302.0 L910.4 302.0 L914.1 299.3 L921.5 307.6 L932.6 311.3 L947.4 312.2 L950.5 314.2 L951.5 310.0 L956.3 309.0 L956.8 301.6 L962.3 305.8 L979.5 311.0 L993.0 305.9 L998.5 298.5 L993.9 283.7 L994.8 273.5 L1004.1 260.6 L1018.9 252.2 L1026.3 255.9 L1027.2 253.1 L1037.4 253.1 L1048.5 258.7 L1070.7 255.9 L1083.7 260.6 L1096.7 267.0 L1115.2 270.7 L1139.3 278.1 L1141.1 285.6 L1161.5 307.8 L1170.7 310.6 L1181.9 326.3 L1187.4 341.1 L1188.3 359.6 L1186.5 376.3 L1199.4 368.9 L1192.0 378.1 L1180.0 380.0 L1174.4 386.5 L1181.9 387.4 L1178.1 393.0 L1170.7 393.9 L1166.1 403.1 L1176.3 407.8 L1170.7 415.5 L1186.5 409.3 L1201.3 423.1 L1196.7 433.3 L1186.5 444.4 L1178.1 441.7 L1170.7 433.3 L1165.2 439.8 L1164.3 457.4 L1148.5 463.9 L1133.7 470.4 L1120.7 475.9 L1115.2 479.6 L1107.8 483.3 L1093.0 483.3 L1078.1 474.1 L1059.6 464.8 L1047.6 458.3 L1037.4 466.7 L1024.4 471.3 L1027.2 483.3 L1015.2 490.7 L1017.0 495.4 L994.8 495.4 L978.1 501.9 L960.6 506.5 L954.1 512.0 L960.6 518.5 L957.8 523.1 L964.3 525.9 L963.3 530.0 L962.7 539.6 L958.5 554.1 L952.4 569.7 L960.9 580.6 L956.0 589.0 L945.8 586.6 L935.6 591.4 L928.4 598.6 L922.3 602.2 L923.5 607.1 L919.9 608.9 L921.1 613.1 L915.7 616.1 L919.3 619.7 L911.5 623.9 L904.3 631.1 L899.5 636.5 L898.3 634.7 L895.8 640.8 L887.4 639.6 L879.6 636.5 L874.8 639.0 L873.0 626.3 L877.2 622.1 L871.8 624.5 L862.1 632.3 L862.7 635.9 L841.7 639.0 L840.5 645.6 L838.7 637.2 L829.0 637.2 L826.0 629.9 L820.4 628.9 L803.7 634.4 L796.3 640.0 L782.4 632.6 L773.1 630.7 L764.8 621.5 L760.7 617.8 L760.2 623.3 L753.7 625.2 L745.4 637.2 L737.0 637.2 L711.1 628.0 L711.1 644.6 L707.4 645.6 L708.3 651.1 L703.7 653.0 L706.5 658.5 L700.0 658.5 L692.6 664.1 L688.0 661.3 L685.2 665.9 L677.8 663.1 L671.3 662.2 L670.4 669.6 L655.6 663.1 L649.1 660.4 L650.9 646.5 L657.4 643.7 L663.9 642.8 L663.9 635.4 L658.3 634.4 L657.4 640.0 L652.8 638.1 L650.9 642.8 L643.5 644.6 L637.0 651.1 L627.8 652.0 L622.2 649.3 L623.1 643.7 L631.5 628.9 L635.2 627.4 L655.6 629.8 L655.6 626.1 L646.3 626.1 L645.4 621.7 L630.6 624.3 L631.5 619.6 L629.6 610.4 L633.3 603.9 L634.3 594.6 L639.8 590.9 L644.4 591.9 L655.6 585.4 L661.1 588.1 L665.7 578.0 L659.3 576.1 L657.4 567.8 L665.7 565.0 L665.7 557.6 L669.4 552.0 L681.5 551.9 L690.7 548.1 L700.9 549.1 L711.1 540.7 L716.7 543.5 L717.6 538.0 L724.1 529.6 L723.1 522.2 L716.7 521.3 L715.7 511.1 L713.0 507.4 L713.0 498.1 L711.1 490.7 L700.9 486.1 L705.6 475.9 L708.3 469.4 L718.5 459.3 L726.9 450.0 L729.6 441.7 L730.6 431.5 L734.3 422.2 L741.7 409.3 L733.3 400.0 L729.8 397.4 L728.0 388.1 L729.8 360.4 L726.1 336.3 L722.4 315.9 Z" fill="url(#dots)"/>
<clipPath id="mc"><path d="M715.9 311.3 L730.7 294.6 L760.4 290.0 L786.3 287.8 L817.8 283.5 L838.1 276.1 L843.3 279.8 L833.5 289.1 L833.5 297.4 L836.3 304.8 L845.6 312.2 L862.2 312.2 L873.3 307.6 L879.8 302.0 L891.9 304.8 L903.0 305.7 L904.8 302.0 L910.4 302.0 L914.1 299.3 L921.5 307.6 L932.6 311.3 L947.4 312.2 L950.5 314.2 L951.5 310.0 L956.3 309.0 L956.8 301.6 L962.3 305.8 L979.5 311.0 L993.0 305.9 L998.5 298.5 L993.9 283.7 L994.8 273.5 L1004.1 260.6 L1018.9 252.2 L1026.3 255.9 L1027.2 253.1 L1037.4 253.1 L1048.5 258.7 L1070.7 255.9 L1083.7 260.6 L1096.7 267.0 L1115.2 270.7 L1139.3 278.1 L1141.1 285.6 L1161.5 307.8 L1170.7 310.6 L1181.9 326.3 L1187.4 341.1 L1188.3 359.6 L1186.5 376.3 L1199.4 368.9 L1192.0 378.1 L1180.0 380.0 L1174.4 386.5 L1181.9 387.4 L1178.1 393.0 L1170.7 393.9 L1166.1 403.1 L1176.3 407.8 L1170.7 415.5 L1186.5 409.3 L1201.3 423.1 L1196.7 433.3 L1186.5 444.4 L1178.1 441.7 L1170.7 433.3 L1165.2 439.8 L1164.3 457.4 L1148.5 463.9 L1133.7 470.4 L1120.7 475.9 L1115.2 479.6 L1107.8 483.3 L1093.0 483.3 L1078.1 474.1 L1059.6 464.8 L1047.6 458.3 L1037.4 466.7 L1024.4 471.3 L1027.2 483.3 L1015.2 490.7 L1017.0 495.4 L994.8 495.4 L978.1 501.9 L960.6 506.5 L954.1 512.0 L960.6 518.5 L957.8 523.1 L964.3 525.9 L963.3 530.0 L962.7 539.6 L958.5 554.1 L952.4 569.7 L960.9 580.6 L956.0 589.0 L945.8 586.6 L935.6 591.4 L928.4 598.6 L922.3 602.2 L923.5 607.1 L919.9 608.9 L921.1 613.1 L915.7 616.1 L919.3 619.7 L911.5 623.9 L904.3 631.1 L899.5 636.5 L898.3 634.7 L895.8 640.8 L887.4 639.6 L879.6 636.5 L874.8 639.0 L873.0 626.3 L877.2 622.1 L871.8 624.5 L862.1 632.3 L862.7 635.9 L841.7 639.0 L840.5 645.6 L838.7 637.2 L829.0 637.2 L826.0 629.9 L820.4 628.9 L803.7 634.4 L796.3 640.0 L782.4 632.6 L773.1 630.7 L764.8 621.5 L760.7 617.8 L760.2 623.3 L753.7 625.2 L745.4 637.2 L737.0 637.2 L711.1 628.0 L711.1 644.6 L707.4 645.6 L708.3 651.1 L703.7 653.0 L706.5 658.5 L700.0 658.5 L692.6 664.1 L688.0 661.3 L685.2 665.9 L677.8 663.1 L671.3 662.2 L670.4 669.6 L655.6 663.1 L649.1 660.4 L650.9 646.5 L657.4 643.7 L663.9 642.8 L663.9 635.4 L658.3 634.4 L657.4 640.0 L652.8 638.1 L650.9 642.8 L643.5 644.6 L637.0 651.1 L627.8 652.0 L622.2 649.3 L623.1 643.7 L631.5 628.9 L635.2 627.4 L655.6 629.8 L655.6 626.1 L646.3 626.1 L645.4 621.7 L630.6 624.3 L631.5 619.6 L629.6 610.4 L633.3 603.9 L634.3 594.6 L639.8 590.9 L644.4 591.9 L655.6 585.4 L661.1 588.1 L665.7 578.0 L659.3 576.1 L657.4 567.8 L665.7 565.0 L665.7 557.6 L669.4 552.0 L681.5 551.9 L690.7 548.1 L700.9 549.1 L711.1 540.7 L716.7 543.5 L717.6 538.0 L724.1 529.6 L723.1 522.2 L716.7 521.3 L715.7 511.1 L713.0 507.4 L713.0 498.1 L711.1 490.7 L700.9 486.1 L705.6 475.9 L708.3 469.4 L718.5 459.3 L726.9 450.0 L729.6 441.7 L730.6 431.5 L734.3 422.2 L741.7 409.3 L733.3 400.0 L729.8 397.4 L728.0 388.1 L729.8 360.4 L726.1 336.3 L722.4 315.9 Z"/></clipPath>
<g clip-path="url(#mc)">
<ellipse cx="888" cy="342" rx="40" ry="19" fill="url(#fl)" transform="rotate(-20 888 342)"/>
<path d="M886 344 Q910 312 928 252" fill="none" stroke="url(#st)" stroke-width="6" opacity=".42" filter="url(#b1)"/>
<path d="M886 344 Q910 312 928 252" fill="none" stroke="url(#st)" stroke-width="1.4" opacity=".3"/>
<ellipse cx="1106" cy="353" rx="40" ry="19" fill="url(#fl)" transform="rotate(-20 1106 353)"/>
<path d="M1104 355 Q1128 323 1146 263" fill="none" stroke="url(#st)" stroke-width="6" opacity=".42" filter="url(#b1)"/>
<path d="M1104 355 Q1128 323 1146 263" fill="none" stroke="url(#st)" stroke-width="1.4" opacity=".3"/>
<ellipse cx="862" cy="523" rx="40" ry="19" fill="url(#fl)" transform="rotate(-20 862 523)"/>
<path d="M860 525 Q884 493 902 433" fill="none" stroke="url(#st)" stroke-width="6" opacity=".42" filter="url(#b1)"/>
<path d="M860 525 Q884 493 902 433" fill="none" stroke="url(#st)" stroke-width="1.4" opacity=".3"/>
</g>
<path d="M918 280 L950 202" stroke="#9fd8ff" stroke-width="8" opacity=".06" filter="url(#b1)"/>
<path d="M1136 291 L1168 213" stroke="#9fd8ff" stroke-width="8" opacity=".06" filter="url(#b1)"/>
<path d="M729.6 441.7 L743.5 442.2 L757.4 436.1 L785.2 418.5 L822.2 404.6 L786.3 417.8 L827.0 403.0 L838.1 388.1 L847.4 377.0 L850.0 374.9 L862.3 374.3 L869.1 375.5 L872.2 380.5 L877.1 385.4 L875.2 394.0 L872.2 397.1 L883.3 395.9 L886.3 393.4 L895.0 395.2 L895.6 399.6 L898.0 401.4 L898.6 398.9 L904.2 397.7 L906.0 395.2 L921.4 395.2 L923.9 399.6 L926.4 400.2 L927.6 404.5 L929.4 405.1 L929.4 409.4 L924.5 409.7 L923.9 413.7 L919.6 420.5 L919.0 425.4 L922.7 431.0 L928.8 439.6 L933.7 442.0 L934.4 447.0 L940.5 447.6 L940.9 453.7 L942.4 453.5 L942.6 437.5 L946.1 437.5 L947.3 451.3 L951.6 457.4 L948.5 459.3 L952.2 463.6 L957.1 465.4 L955.9 467.3 L962.7 468.5 L965.8 472.2 L971.3 472.8 L975.6 471.0 L978.7 478.4 L983.0 478.4 L986.7 483.3 L991.6 483.3 L996.6 479.0 L991.6 478.4 L991.0 475.3 L998.4 471.6 L1002.7 475.3 L1008.9 472.8 L1016.3 472.2 L1021.8 466.1 L1024.3 472.2" fill="none" stroke="#fff" stroke-width="1" opacity=".95" stroke-linejoin="round"/>
<path d="M951.1 314.1 L956.7 322.4 L946.5 335.4 L949.3 346.5 L953.9 351.1 L959.4 351.1 L962.2 363.1 L966.9 369.6 L965.8 370.0 L973.2 372.5 L975.6 375.5 L972.5 381.7 L983.0 384.8 L984.2 387.2 L983.0 390.3 L978.1 391.2 L966.4 389.1 L964.5 395.9 L962.1 402.0 L963.9 410.6 L964.5 417.4 L959.6 417.4 L957.8 423.6 L962.7 424.8 L960.2 431.0 L954.7 434.7 L947.3 437.7" fill="none" stroke="#fff" stroke-width="1" opacity=".95" stroke-linejoin="round"/>
<path d="M715.9 311.3 L730.7 294.6 L760.4 290.0 L786.3 287.8 L817.8 283.5 L838.1 276.1 L843.3 279.8 L833.5 289.1 L833.5 297.4 L836.3 304.8 L845.6 312.2 L862.2 312.2 L873.3 307.6 L879.8 302.0 L891.9 304.8 L903.0 305.7 L904.8 302.0 L910.4 302.0 L914.1 299.3 L921.5 307.6 L932.6 311.3 L947.4 312.2 L950.5 314.2 L951.5 310.0 L956.3 309.0 L956.8 301.6 L962.3 305.8 L979.5 311.0 L993.0 305.9 L998.5 298.5 L993.9 283.7 L994.8 273.5 L1004.1 260.6 L1018.9 252.2 L1026.3 255.9 L1027.2 253.1 L1037.4 253.1 L1048.5 258.7 L1070.7 255.9 L1083.7 260.6 L1096.7 267.0 L1115.2 270.7 L1139.3 278.1 L1141.1 285.6 L1161.5 307.8 L1170.7 310.6 L1181.9 326.3 L1187.4 341.1 L1188.3 359.6 L1186.5 376.3 L1199.4 368.9 L1192.0 378.1 L1180.0 380.0 L1174.4 386.5 L1181.9 387.4 L1178.1 393.0 L1170.7 393.9 L1166.1 403.1 L1176.3 407.8 L1170.7 415.5 L1186.5 409.3 L1201.3 423.1 L1196.7 433.3 L1186.5 444.4 L1178.1 441.7 L1170.7 433.3 L1165.2 439.8 L1164.3 457.4 L1148.5 463.9 L1133.7 470.4 L1120.7 475.9 L1115.2 479.6 L1107.8 483.3 L1093.0 483.3 L1078.1 474.1 L1059.6 464.8 L1047.6 458.3 L1037.4 466.7 L1024.4 471.3 L1027.2 483.3 L1015.2 490.7 L1017.0 495.4 L994.8 495.4 L978.1 501.9 L960.6 506.5 L954.1 512.0 L960.6 518.5 L957.8 523.1 L964.3 525.9 L963.3 530.0 L962.7 539.6 L958.5 554.1 L952.4 569.7 L960.9 580.6 L956.0 589.0 L945.8 586.6 L935.6 591.4 L928.4 598.6 L922.3 602.2 L923.5 607.1 L919.9 608.9 L921.1 613.1 L915.7 616.1 L919.3 619.7 L911.5 623.9 L904.3 631.1 L899.5 636.5 L898.3 634.7 L895.8 640.8 L887.4 639.6 L879.6 636.5 L874.8 639.0 L873.0 626.3 L877.2 622.1 L871.8 624.5 L862.1 632.3 L862.7 635.9 L841.7 639.0 L840.5 645.6 L838.7 637.2 L829.0 637.2 L826.0 629.9 L820.4 628.9 L803.7 634.4 L796.3 640.0 L782.4 632.6 L773.1 630.7 L764.8 621.5 L760.7 617.8 L760.2 623.3 L753.7 625.2 L745.4 637.2 L737.0 637.2 L711.1 628.0 L711.1 644.6 L707.4 645.6 L708.3 651.1 L703.7 653.0 L706.5 658.5 L700.0 658.5 L692.6 664.1 L688.0 661.3 L685.2 665.9 L677.8 663.1 L671.3 662.2 L670.4 669.6 L655.6 663.1 L649.1 660.4 L650.9 646.5 L657.4 643.7 L663.9 642.8 L663.9 635.4 L658.3 634.4 L657.4 640.0 L652.8 638.1 L650.9 642.8 L643.5 644.6 L637.0 651.1 L627.8 652.0 L622.2 649.3 L623.1 643.7 L631.5 628.9 L635.2 627.4 L655.6 629.8 L655.6 626.1 L646.3 626.1 L645.4 621.7 L630.6 624.3 L631.5 619.6 L629.6 610.4 L633.3 603.9 L634.3 594.6 L639.8 590.9 L644.4 591.9 L655.6 585.4 L661.1 588.1 L665.7 578.0 L659.3 576.1 L657.4 567.8 L665.7 565.0 L665.7 557.6 L669.4 552.0 L681.5 551.9 L690.7 548.1 L700.9 549.1 L711.1 540.7 L716.7 543.5 L717.6 538.0 L724.1 529.6 L723.1 522.2 L716.7 521.3 L715.7 511.1 L713.0 507.4 L713.0 498.1 L711.1 490.7 L700.9 486.1 L705.6 475.9 L708.3 469.4 L718.5 459.3 L726.9 450.0 L729.6 441.7 L730.6 431.5 L734.3 422.2 L741.7 409.3 L733.3 400.0 L729.8 397.4 L728.0 388.1 L729.8 360.4 L726.1 336.3 L722.4 315.9 Z" fill="none" stroke="#fff" stroke-width="3" stroke-linejoin="miter"/>
<path d="M1118.0 475.9 L1118.9 472.2 L1124.4 471.3 L1124.4 457.4 L1117.0 457.4 L1117.0 463.0 L1112.4 463.9 L1112.4 473.1 L1116.1 473.1 Z" fill="#c9d3e4" stroke="#fff" stroke-width="1.5"/>
<rect x="579" y="248.8" width="149" height="2" fill="url(#tl)"/>
<path d="M573.1 285.2 H724" stroke="#c9d1ea" stroke-width="2" fill="none"/>
<path d="M724 285.2 L745.9 309.5" stroke="#d5dcf2" stroke-width="1.6" fill="none"/>
<circle cx="573.1" cy="285.2" r="3.3" fill="#c9d1ea"/>
<circle cx="745.9" cy="309.5" r="6.5" fill="#cfeaff" opacity=".35"/><circle cx="745.9" cy="309.5" r="3" fill="#e4f3ff" opacity=".9"/>
<rect x="1100" y="222.5" width="165" height="2" fill="url(#tl)"/>
<path d="M1266 258.6 H1107" stroke="#c9d1ea" stroke-width="2" fill="none"/>
<path d="M1107 258.6 L1091 283" stroke="#d5dcf2" stroke-width="1.6" fill="none"/>
<circle cx="1266" cy="258.6" r="3.3" fill="#c9d1ea"/>
<circle cx="1091" cy="283" r="6.5" fill="#cfeaff" opacity=".35"/><circle cx="1091" cy="283" r="3" fill="#e4f3ff" opacity=".9"/>
<rect x="961" y="517.5" width="151" height="2" fill="url(#tl)"/>
<path d="M1111 554.2 H955" stroke="#c9d1ea" stroke-width="2" fill="none"/>
<path d="M955 554.2 L937 578" stroke="#d5dcf2" stroke-width="1.6" fill="none"/>
<circle cx="1111" cy="554.2" r="3.3" fill="#c9d1ea"/>
<circle cx="937" cy="578" r="6.5" fill="#cfeaff" opacity=".35"/><circle cx="937" cy="578" r="3" fill="#e4f3ff" opacity=".9"/>
</svg>
<div style="position:absolute;font-size:22px;line-height:26px;white-space:nowrap;color:#fff;text-align:center;width:120px;text-shadow:0 0 2px rgba(255,255,255,.4);left:778px;top:344.8px">容城县</div>
<div style="position:absolute;font-size:22px;line-height:26px;white-space:nowrap;color:#fff;text-align:center;width:120px;text-shadow:0 0 2px rgba(255,255,255,.4);left:1007.5999999999999px;top:359px">雄县</div>
<div style="position:absolute;font-size:22px;line-height:26px;white-space:nowrap;color:#fff;text-align:center;width:120px;text-shadow:0 0 2px rgba(255,255,255,.4);left:760.8px;top:515.4px">安新县</div>
<div style="position:absolute;font-size:20px;line-height:24px;white-space:nowrap;color:#d6ddf1;left:589px;top:256px">总用户：8万</div>
<div style="position:absolute;font-size:20px;line-height:24px;white-space:nowrap;color:#d6ddf1;left:1124px;top:229px">总用户：12万</div>
<div style="position:absolute;font-size:20px;line-height:24px;white-space:nowrap;color:#d6ddf1;left:970px;top:525px">总用户：17万</div>

<div class="panel" style="left:19px;top:86px;width:464px;height:314px"><i class="tl"></i><i class="tr"></i><i class="bl"></i><i class="br"></i>
<div class="ptitle">本年度用气统计</div>
<svg class="abs" style="left:0;top:0" width="462" height="312" viewBox="0 0 462 312">
<defs>
<linearGradient id="g1o" x1="0" y1="0" x2="0" y2="1"><stop offset="0" stop-color="#7ff0f2"/><stop offset="0.45" stop-color="#5fd0f5"/><stop offset="1" stop-color="#3a7ff5"/></linearGradient>
<linearGradient id="g1e" gradientUnits="userSpaceOnUse" x1="267.2" y1="207.0" x2="385.2" y2="117.0"><stop offset="0" stop-color="#209cff"/><stop offset="0.5" stop-color="#2ec8fa"/><stop offset="1" stop-color="#36f2f4"/></linearGradient>
<linearGradient id="g1f" gradientUnits="userSpaceOnUse" x1="267.2" y1="0" x2="390.2" y2="0"><stop offset="0" stop-color="#105eaa"/><stop offset="1" stop-color="#0f76b8"/></linearGradient>
<linearGradient id="g1d" x1="0" y1="0" x2="0" y2="1"><stop offset="0" stop-color="#3fe0f5"/><stop offset="1" stop-color="#2b78ff"/></linearGradient>
</defs>
<path d="M280.33 221.87 A77.6 77.6 0 1 1 390.07 221.87" fill="none" stroke="url(#g1o)" stroke-width="1.4"/>
<path d="M280.68 221.52 L284.57 217.63" stroke="#6e6a72" stroke-width="1"/>
<path d="M259.05 154.94 L264.48 155.80" stroke="#6e6a72" stroke-width="1"/>
<path d="M300.20 98.30 L302.69 103.20" stroke="#6e6a72" stroke-width="1"/>
<path d="M370.20 98.30 L367.71 103.20" stroke="#6e6a72" stroke-width="1"/>
<path d="M411.35 154.94 L405.92 155.80" stroke="#6e6a72" stroke-width="1"/>
<path d="M389.72 221.52 L385.83 217.63" stroke="#6e6a72" stroke-width="1"/>
<path d="M287.12 215.08 A68 68 0 1 1 386.63 122.51 L359.78 145.74 A32.5 32.5 0 1 0 312.22 189.98 Z" fill="url(#g1f)"/>
<path d="M288.60 213.60 A65.9 65.9 0 1 1 385.04 123.89" fill="none" stroke="url(#g1e)" stroke-width="4.2"/>
<path d="M318.02 184.18 A24.3 24.3 0 1 1 352.38 184.18" fill="none" stroke="url(#g1o)" stroke-width="1.3"/>
<circle cx="335.2" cy="167.0" r="5.9" fill="url(#g1d)"/>
</svg>
<div class="abs t12" style="left:246.3px;top:232.1px;width:40px;text-align:center">0</div>
<div class="abs t12" style="left:217.9px;top:144.0px;width:40px;text-align:center">1</div>
<div class="abs t12" style="left:272.3px;top:75.4px;width:40px;text-align:center">2</div>
<div class="abs t12" style="left:357.5px;top:75.4px;width:40px;text-align:center">3</div>
<div class="abs t12" style="left:411.5px;top:144.0px;width:40px;text-align:center">4</div>
<div class="abs t12" style="left:383.4px;top:232.1px;width:40px;text-align:center">5</div>
<div class="abs t12" style="left:295.2px;top:213.0px;width:80px;text-align:center">用气总量</div>
<svg class="abs" style="left:15.700000000000003px;top:97px" width="48" height="48" viewBox="-24 -24 48 48"><defs><radialGradient id="g1i1"><stop offset="0" stop-color="#1552ad"/><stop offset="0.75" stop-color="#133f9a"/><stop offset="1" stop-color="#15389a"/></radialGradient><filter id="g1i1b" x="-50%" y="-50%" width="200%" height="200%"><feGaussianBlur stdDeviation="1.6"/></filter></defs><circle r="16.3" fill="none" stroke="#3f8ee8" stroke-width="3" opacity=".45" filter="url(#g1i1b)"/><circle r="16" fill="url(#g1i1)" stroke="#62b4f6" stroke-width="1.5"/><g fill="none" stroke="#86d6ff" stroke-width="2" stroke-linecap="round"><path d="M-5.3 -4.8 C-7.2 -2.6 -3.6 -0.8 -4.6 1.6 C-5.4 3.4 -6.8 4.6 -5.2 6.4"/><path d="M5.6 -4.8 C3.7 -2.6 7.6 -0.8 6.6 1.6 C5.8 3.4 4.4 4.6 6 6.4"/><path d="M-1.3 -3.3 L2.8 -6.4 M-2.2 3.2 L2.8 -0.9 M-1.3 7.8 L3.7 3.2" stroke-width="1.5"/></g></svg>
<svg class="abs" style="left:16.5px;top:199.39999999999998px" width="48" height="48" viewBox="-24 -24 48 48"><defs><radialGradient id="g1i2"><stop offset="0" stop-color="#1552ad"/><stop offset="0.75" stop-color="#133f9a"/><stop offset="1" stop-color="#15389a"/></radialGradient><filter id="g1i2b" x="-50%" y="-50%" width="200%" height="200%"><feGaussianBlur stdDeviation="1.6"/></filter></defs><circle r="15.9" fill="none" stroke="#3f8ee8" stroke-width="3" opacity=".45" filter="url(#g1i2b)"/><circle r="15.6" fill="url(#g1i2)" stroke="#62b4f6" stroke-width="1.5"/><g fill="none" stroke="#86d6ff" stroke-width="1.9" stroke-linejoin="round" stroke-linecap="round"><path d="M0 -7.2 C-2.5 -3.5 -5.6 0 -5.6 2.4 C-5.6 5.4 -3 7.5 0 7.5 C3 7.5 5.6 5.4 5.6 2.4 C5.6 0 2.5 -3.5 0 -7.2 Z"/><path d="M-7.8 2.6 H7.8" stroke-width="2.2"/></g><g fill="#a8e2ff"><circle cx="0" cy="-2.3" r="1"/><circle cx="-2" cy="-0.2" r="1"/><circle cx="2" cy="-0.2" r="1"/></g></svg>
<div class="abs t12" style="left:70px;top:99.3px">总用户数</div>
<div class="abs num" style="left:70px;top:116.2px">19<b>.</b>6</div>
<div class="abs t12" style="left:165.5px;top:120.5px">万户</div>
<div class="abs t12" style="left:70px;top:201.6px">总用气补贴</div>
<div class="abs num" style="left:70px;top:218.0px">49100</div>
<div class="abs t12" style="left:165.5px;top:223.3px">万元</div>
<div class="abs" style="left:286px;top:243px;font-size:18px;line-height:22px;font-weight:bold;white-space:nowrap">3.41</div><div class="abs" style="left:343px;top:245px;font-size:14px;line-height:18px;white-space:nowrap">亿 (m³)</div>
</div>

<div class="panel" style="left:19px;top:410px;width:464px;height:314px"><i class="tl"></i><i class="tr"></i><i class="bl"></i><i class="br"></i>
<div class="ptitle">本年度用电统计</div>
<svg class="abs" style="left:0;top:0" width="462" height="312" viewBox="0 0 462 312">
<defs>
<linearGradient id="g2o" x1="0" y1="0" x2="0" y2="1"><stop offset="0" stop-color="#7ff0f2"/><stop offset="0.45" stop-color="#5fd0f5"/><stop offset="1" stop-color="#3a7ff5"/></linearGradient>
<linearGradient id="g2e" gradientUnits="userSpaceOnUse" x1="267.2" y1="212.0" x2="403.2" y2="147.0"><stop offset="0" stop-color="#86d2f4"/><stop offset="0.35" stop-color="#b9bcc0"/><stop offset="0.62" stop-color="#e6a085"/><stop offset="1" stop-color="#f0a07c"/></linearGradient>
<linearGradient id="g2f" gradientUnits="userSpaceOnUse" x1="285.2" y1="212.0" x2="380.2" y2="117.0"><stop offset="0" stop-color="#1d60ab"/><stop offset="0.5" stop-color="#54639a"/><stop offset="1" stop-color="#8b6a84"/></linearGradient>
<linearGradient id="g2d" x1="0" y1="0" x2="0" y2="1"><stop offset="0" stop-color="#3fe0f5"/><stop offset="1" stop-color="#2b78ff"/></linearGradient>
</defs>
<path d="M280.33 221.87 A77.6 77.6 0 1 1 390.07 221.87" fill="none" stroke="url(#g2o)" stroke-width="1.4"/>
<path d="M280.68 221.52 L284.57 217.63" stroke="#6e6a72" stroke-width="1"/>
<path d="M259.05 154.94 L264.48 155.80" stroke="#6e6a72" stroke-width="1"/>
<path d="M300.20 98.30 L302.69 103.20" stroke="#6e6a72" stroke-width="1"/>
<path d="M370.20 98.30 L367.71 103.20" stroke="#6e6a72" stroke-width="1"/>
<path d="M411.35 154.94 L405.92 155.80" stroke="#6e6a72" stroke-width="1"/>
<path d="M389.72 221.52 L385.83 217.63" stroke="#6e6a72" stroke-width="1"/>
<path d="M287.12 215.08 A68 68 0 1 1 400.11 187.25 L366.23 176.68 A32.5 32.5 0 1 0 312.22 189.98 Z" fill="url(#g2f)"/>
<path d="M288.60 213.60 A65.9 65.9 0 1 1 398.11 186.62" fill="none" stroke="url(#g2e)" stroke-width="4.2"/>
<path d="M318.02 184.18 A24.3 24.3 0 1 1 352.38 184.18" fill="none" stroke="url(#g2o)" stroke-width="1.3"/>
<circle cx="335.2" cy="167.0" r="5.9" fill="url(#g2d)"/>
</svg>
<div class="abs t12" style="left:246.3px;top:232.1px;width:40px;text-align:center">0</div>
<div class="abs t12" style="left:217.9px;top:144.0px;width:40px;text-align:center">8</div>
<div class="abs t12" style="left:276.0px;top:75.4px;width:40px;text-align:center">16</div>
<div class="abs t12" style="left:354.1px;top:75.4px;width:40px;text-align:center">24</div>
<div class="abs t12" style="left:408.5px;top:144.0px;width:40px;text-align:center">32</div>
<div class="abs t12" style="left:379.7px;top:232.1px;width:40px;text-align:center">40</div>
<div class="abs t12" style="left:295.2px;top:213.0px;width:80px;text-align:center">用电总量</div>
<svg class="abs" style="left:15.700000000000003px;top:97px" width="48" height="48" viewBox="-24 -24 48 48"><defs><radialGradient id="g2i1"><stop offset="0" stop-color="#1552ad"/><stop offset="0.75" stop-color="#133f9a"/><stop offset="1" stop-color="#15389a"/></radialGradient><filter id="g2i1b" x="-50%" y="-50%" width="200%" height="200%"><feGaussianBlur stdDeviation="1.6"/></filter></defs><circle r="16.3" fill="none" stroke="#3f8ee8" stroke-width="3" opacity=".45" filter="url(#g2i1b)"/><circle r="16" fill="url(#g2i1)" stroke="#62b4f6" stroke-width="1.5"/><g fill="none" stroke="#86d6ff" stroke-width="2" stroke-linecap="round"><path d="M-5.3 -4.8 C-7.2 -2.6 -3.6 -0.8 -4.6 1.6 C-5.4 3.4 -6.8 4.6 -5.2 6.4"/><path d="M5.6 -4.8 C3.7 -2.6 7.6 -0.8 6.6 1.6 C5.8 3.4 4.4 4.6 6 6.4"/><path d="M-1.3 -3.3 L2.8 -6.4 M-2.2 3.2 L2.8 -0.9 M-1.3 7.8 L3.7 3.2" stroke-width="1.5"/></g></svg>
<svg class="abs" style="left:16.5px;top:199.39999999999998px" width="48" height="48" viewBox="-24 -24 48 48"><defs><radialGradient id="g2i2"><stop offset="0" stop-color="#1552ad"/><stop offset="0.75" stop-color="#133f9a"/><stop offset="1" stop-color="#15389a"/></radialGradient><filter id="g2i2b" x="-50%" y="-50%" width="200%" height="200%"><feGaussianBlur stdDeviation="1.6"/></filter></defs><circle r="15.9" fill="none" stroke="#3f8ee8" stroke-width="3" opacity=".45" filter="url(#g2i2b)"/><circle r="15.6" fill="url(#g2i2)" stroke="#62b4f6" stroke-width="1.5"/><g fill="none" stroke="#86d6ff" stroke-width="1.9" stroke-linejoin="round" stroke-linecap="round"><path d="M0 -7.2 C-2.5 -3.5 -5.6 0 -5.6 2.4 C-5.6 5.4 -3 7.5 0 7.5 C3 7.5 5.6 5.4 5.6 2.4 C5.6 0 2.5 -3.5 0 -7.2 Z"/><path d="M-7.8 2.6 H7.8" stroke-width="2.2"/></g><g fill="#a8e2ff"><circle cx="0" cy="-2.3" r="1"/><circle cx="-2" cy="-0.2" r="1"/><circle cx="2" cy="-0.2" r="1"/></g></svg>
<div class="abs t12" style="left:70px;top:99.3px">总用户数</div>
<div class="abs num" style="left:70px;top:116.2px">18<b>.</b>2</div>
<div class="abs t12" style="left:165.5px;top:120.5px">万户</div>
<div class="abs t12" style="left:70px;top:201.6px">总用气补贴</div>
<div class="abs num" style="left:70px;top:218.0px">17242</div>
<div class="abs t12" style="left:165.5px;top:223.3px">万元</div>
<div class="abs" style="left:286px;top:243px;font-size:18px;line-height:22px;font-weight:bold;white-space:nowrap">35.9</div><div class="abs" style="left:336px;top:245px;font-size:14px;line-height:18px;white-space:nowrap">万 (kw/h)</div>
</div>

<div class="panel" style="left:1435px;top:86px;width:466px;height:270px"><i class="tl"></i><i class="tr"></i><i class="bl"></i><i class="br"></i>
<div class="ptitle">燃气巡检</div>
<svg class="abs" style="left:0;top:0" width="464" height="268" viewBox="0 0 464 268">
<circle cx="28.2" cy="76.7" r="5" fill="none" stroke="#0b9df2" stroke-width="1.5"/><circle cx="28.2" cy="76.7" r="2.4" fill="#12b6ff"/>
<circle cx="28.2" cy="119.7" r="5" fill="none" stroke="#0b9df2" stroke-width="1.5"/><circle cx="28.2" cy="119.7" r="2.4" fill="#12b6ff"/>
<circle cx="28.2" cy="162.7" r="5" fill="none" stroke="#0b9df2" stroke-width="1.5"/><circle cx="28.2" cy="162.7" r="2.4" fill="#12b6ff"/>
<path d="M336.30 98.80 A68 68 0 1 1 312.95 230.66 L336.30 166.80 A0 0 0 1 0 336.30 166.80 Z" fill="#609fea"/>
<path d="M312.95 230.66 A68 68 0 0 1 336.30 98.80 L336.30 166.80 A0 0 0 0 0 336.30 166.80 Z" fill="#cadfff"/>
<circle cx="336.29999999999995" cy="166.8" r="38.2" fill="#bfe0ff" stroke="#1460ae" stroke-width="1.8"/>
<path d="M356.88 156.54 L363.60 153.19" stroke="#2fb9f7" stroke-width="1.25"/>
<path d="M346.56 146.22 L349.91 139.50" stroke="#2fb9f7" stroke-width="1.25"/>
<path d="M326.04 146.22 L322.69 139.50" stroke="#2fb9f7" stroke-width="1.25"/>
<path d="M315.72 156.54 L309.00 153.19" stroke="#2fb9f7" stroke-width="1.25"/>
<path d="M315.72 177.06 L309.00 180.41" stroke="#2fb9f7" stroke-width="1.25"/>
<path d="M326.04 187.38 L322.69 194.10" stroke="#2fb9f7" stroke-width="1.25"/>
<path d="M346.56 187.38 L349.91 194.10" stroke="#2fb9f7" stroke-width="1.25"/>
<path d="M356.88 177.06 L363.60 180.41" stroke="#2fb9f7" stroke-width="1.25"/>
<circle cx="336.29999999999995" cy="166.8" r="19.8" fill="#e3f6ff" stroke="#c4ecff" stroke-width="1"/>
<text x="336.29999999999995" y="170.70000000000002" text-anchor="middle" font-family="Liberation Sans, sans-serif" font-weight="bold" font-size="8.6" letter-spacing="0.9" fill="#2bb2f0" textLength="29" lengthAdjust="spacingAndGlyphs">DATA</text>
</svg>
<div class="abs t12" style="left:42px;top:70.0px">总巡检次数</div>
<div class="abs num" style="left:42px;top:85.6px">6</div>
<div class="abs t12" style="left:42px;top:113.0px">总巡检用户数</div>
<div class="abs num" style="left:42px;top:128.6px">19</div>
<div class="abs t12" style="left:137.8px;top:135.0px">万户</div>
<div class="abs t12" style="left:42px;top:156.0px">发现问题数</div>
<div class="abs num" style="left:42px;top:171.6px">1055</div>
<div class="abs t12" style="left:214px;top:73.5px">本轮巡检实时数据</div>
<div class="abs t12" style="left:159px;width:100.5px;text-align:right;top:144.5px;line-height:12px">未巡检<br>84400户</div>
<div class="abs t12" style="left:414px;top:164.5px;line-height:12px">已巡检<br>105600户</div>
</div>

<div class="panel" style="left:1435px;top:367px;width:466px;height:357px"><i class="tl"></i><i class="tr"></i><i class="bl"></i><i class="br"></i>
<div class="ptitle">维修信息展示</div>
<div class="abs t12" style="left:9.5px;width:60px;text-align:center;top:77.30000000000001px;color:#58bcff">户主</div>
<div class="abs t12" style="left:80px;top:77.30000000000001px;color:#58bcff">地址</div>
<div class="abs t12" style="left:273.70000000000005px;width:80px;text-align:center;top:77.30000000000001px;color:#58bcff">申请时间</div>
<div class="abs t12" style="left:383.4000000000001px;width:60px;text-align:center;top:77.30000000000001px;color:#58bcff">完成</div>
<div class="abs" style="left:0;top:104px;width:464px;height:244px;overflow:hidden">
<div class="abs" style="left:0;top:0px;width:464px;height:42px;background:#233b91"></div>
<div class="abs t12" style="left:9.5px;width:60px;text-align:center;top:12.8px">王彬</div>
<div class="abs t12" style="left:80px;top:5.6px;line-height:14px">河北省保定市安新县安新镇北联街<br>村北环内北街4-3</div>
<div class="abs" style="left:273.70000000000005px;width:80px;text-align:center;top:13.3px;font-size:11px;line-height:14px;letter-spacing:0.35px;white-space:nowrap">2022-07-06</div>
<div class="abs t12" style="left:383.4000000000001px;width:60px;text-align:center;top:12.8px;color:#0fe26a">普通</div>
<div class="abs" style="left:0;top:52px;width:464px;height:42px;background:#233b91"></div>
<div class="abs t12" style="left:9.5px;width:60px;text-align:center;top:64.8px">冯功碧</div>
<div class="abs t12" style="left:80px;top:57.6px;line-height:14px">河北省保定市安新县安新镇南合街<br>村神道街31号</div>
<div class="abs" style="left:273.70000000000005px;width:80px;text-align:center;top:65.3px;font-size:11px;line-height:14px;letter-spacing:0.35px;white-space:nowrap">2022-07-06</div>
<div class="abs t12" style="left:383.4000000000001px;width:60px;text-align:center;top:64.8px;color:#0fe26a">普通</div>
<div class="abs" style="left:0;top:104px;width:464px;height:42px;background:#233b91"></div>
<div class="abs t12" style="left:9.5px;width:60px;text-align:center;top:116.8px">何开萍</div>
<div class="abs t12" style="left:80px;top:109.6px;line-height:14px">河北省保定市安新县安新镇南合街<br>村小南街35号</div>
<div class="abs" style="left:273.70000000000005px;width:80px;text-align:center;top:117.3px;font-size:11px;line-height:14px;letter-spacing:0.35px;white-space:nowrap">2022-07-06</div>
<div class="abs t12" style="left:383.4000000000001px;width:60px;text-align:center;top:116.8px;color:#e5122c">紧急</div>
<div class="abs" style="left:0;top:156px;width:464px;height:42px;background:#233b91"></div>
<div class="abs t12" style="left:9.5px;width:60px;text-align:center;top:168.8px">李尚超</div>
<div class="abs t12" style="left:80px;top:161.6px;line-height:14px">河北省保定市安新县安新镇北联街<br>村北环内北街14号</div>
<div class="abs" style="left:273.70000000000005px;width:80px;text-align:center;top:169.3px;font-size:11px;line-height:14px;letter-spacing:0.35px;white-space:nowrap">2022-07-06</div>
<div class="abs t12" style="left:383.4000000000001px;width:60px;text-align:center;top:168.8px;color:#e5122c">紧急</div>
<div class="abs" style="left:0;top:208px;width:464px;height:42px;background:#233b91"></div>
<div class="abs t12" style="left:9.5px;width:60px;text-align:center;top:220.8px">王彬</div>
<div class="abs t12" style="left:80px;top:213.6px;line-height:14px">河北省保定市安新县安新镇北联街<br>村北环内北街4-3</div>
<div class="abs" style="left:273.70000000000005px;width:80px;text-align:center;top:221.3px;font-size:11px;line-height:14px;letter-spacing:0.35px;white-space:nowrap">2022-07-06</div>
<div class="abs t12" style="left:383.4000000000001px;width:60px;text-align:center;top:220.8px;color:#0fe26a">普通</div>
</div>
</div>

<div class="panel" style="left:1435px;top:734px;width:466px;height:324px"><i class="tl"></i><i class="tr"></i><i class="bl"></i><i class="br"></i>
<div class="ptitle">维修实时动态</div>
<svg class="abs" style="left:0;top:0" width="464" height="322" viewBox="0 0 464 322">
<defs>
<radialGradient id="dg1" gradientUnits="userSpaceOnUse" cx="231.29999999999995" cy="168.29999999999995" r="86"><stop offset="0.78" stop-color="#163c93" stop-opacity="0"/><stop offset="0.86" stop-color="#16589f"/><stop offset="0.94" stop-color="#139db8"/><stop offset="1" stop-color="#10d0d6"/></radialGradient>
<radialGradient id="dg2" gradientUnits="userSpaceOnUse" cx="231.29999999999995" cy="168.29999999999995" r="48"><stop offset="0.76" stop-color="#1f86aa"/><stop offset="0.84" stop-color="#1b5f9c"/><stop offset="0.96" stop-color="#163590" stop-opacity="0"/></radialGradient>
</defs>
<path d="M231.30 82.30 A86 86 0 0 1 231.32 254.30 L231.31 235.30 A67 67 0 0 0 231.30 101.30 ZM231.30 254.30 A86 86 0 0 1 231.28 82.30 L231.29 101.30 A67 67 0 0 0 231.30 235.30 Z" fill="url(#dg1)"/>
<path d="M231.30 120.30 A48 48 0 0 1 231.31 216.30 L231.31 205.10 A36.8 36.8 0 0 0 231.30 131.50 ZM231.30 216.30 A48 48 0 0 1 231.29 120.30 L231.29 131.50 A36.8 36.8 0 0 0 231.30 205.10 Z" fill="url(#dg2)"/>
<path d="M231.30 100.80 A67.5 67.5 0 1 1 198.96 109.05 L207.92 125.47 A48.8 48.8 0 1 0 231.30 119.50 Z" fill="#0088ff"/>
<path d="M198.96 109.05 A67.5 67.5 0 0 1 231.30 100.80 L231.30 119.50 A48.8 48.8 0 0 0 207.92 125.47 Z" fill="#ff8b66"/>
<rect x="85" y="277.3" width="25" height="13.6" rx="3.5" fill="#0088ff"/>
<rect x="280" y="277.3" width="25" height="13.6" rx="3.5" fill="#ff8b66"/>
</svg>
<div class="abs" style="left:343.5px;width:100px;text-align:right;top:44.5px;font-size:9.8px;line-height:12px;white-space:nowrap">总报修量：3722户</div>
<div class="abs t12" style="left:91.5px;width:100px;text-align:right;top:75.5px;line-height:12px">维修中<br>7.95%</div>
<div class="abs t12" style="left:272px;top:235px;line-height:12px">已维修<br>92.05%</div>
<div class="abs t12" style="left:115.7px;top:277px">已维修</div><div class="abs t12" style="left:162.3px;top:277px">3426</div>
<div class="abs t12" style="left:310px;top:277px">维修中</div><div class="abs t12" style="left:356.7px;top:277px">296</div>
</div>

<div class="panel" style="left:19px;top:734px;width:1406px;height:324px"><i class="tl"></i><i class="tr"></i><i class="bl"></i><i class="br"></i>
<div class="ptitle">各品牌维修率</div>
<svg class="abs" style="left:0;top:0" width="1404" height="322" viewBox="0 0 1404 322">
<defs><linearGradient id="bg" x1="0" y1="0" x2="0" y2="1"><stop offset="0" stop-color="#00d2ff"/><stop offset="0.55" stop-color="#0d83cf"/><stop offset="1" stop-color="#174fae"/></linearGradient></defs>
<path d="M59.9 224.5 H1364.8" stroke="#6f83be" stroke-width="1" stroke-dasharray="4 3" opacity=".75"/>
<path d="M59.9 172.5 H1364.8" stroke="#6f83be" stroke-width="1" stroke-dasharray="4 3" opacity=".75"/>
<path d="M59.9 120.5 H1364.8" stroke="#6f83be" stroke-width="1" stroke-dasharray="4 3" opacity=".75"/>
<rect x="86.7" y="213.8" width="28" height="62.5" fill="url(#bg)"/>
<rect x="168.2" y="265.9" width="28" height="10.4" fill="url(#bg)"/>
<rect x="249.8" y="260.7" width="28" height="15.6" fill="url(#bg)"/>
<rect x="331.3" y="234.6" width="28" height="41.7" fill="url(#bg)"/>
<rect x="412.9" y="255.5" width="28" height="20.8" fill="url(#bg)"/>
<rect x="494.5" y="224.2" width="28" height="52.1" fill="url(#bg)"/>
<rect x="576.0" y="219.0" width="28" height="57.3" fill="url(#bg)"/>
<rect x="657.6" y="192.9" width="28" height="83.4" fill="url(#bg)"/>
<rect x="739.1" y="161.7" width="28" height="114.6" fill="url(#bg)"/>
<rect x="820.7" y="166.9" width="28" height="109.4" fill="url(#bg)"/>
<rect x="902.2" y="224.2" width="28" height="52.1" fill="url(#bg)"/>
<rect x="983.8" y="229.4" width="28" height="46.9" fill="url(#bg)"/>
<rect x="1065.4" y="255.5" width="28" height="20.8" fill="url(#bg)"/>
<rect x="1146.9" y="203.4" width="28" height="72.9" fill="url(#bg)"/>
<rect x="1228.5" y="213.8" width="28" height="62.5" fill="url(#bg)"/>
<rect x="1310.0" y="239.8" width="28" height="36.5" fill="url(#bg)"/>
<path d="M59.9 276.5 H1364.8" stroke="#7d8592" stroke-width="1"/>
<path d="M60.5 276.5 v5" stroke="#7d8592" stroke-width="1"/>
<path d="M141.5 276.5 v5" stroke="#7d8592" stroke-width="1"/>
<path d="M223.5 276.5 v5" stroke="#7d8592" stroke-width="1"/>
<path d="M305.5 276.5 v5" stroke="#7d8592" stroke-width="1"/>
<path d="M386.5 276.5 v5" stroke="#7d8592" stroke-width="1"/>
<path d="M468.5 276.5 v5" stroke="#7d8592" stroke-width="1"/>
<path d="M549.5 276.5 v5" stroke="#7d8592" stroke-width="1"/>
<path d="M631.5 276.5 v5" stroke="#7d8592" stroke-width="1"/>
<path d="M712.5 276.5 v5" stroke="#7d8592" stroke-width="1"/>
<path d="M794.5 276.5 v5" stroke="#7d8592" stroke-width="1"/>
<path d="M875.5 276.5 v5" stroke="#7d8592" stroke-width="1"/>
<path d="M957.5 276.5 v5" stroke="#7d8592" stroke-width="1"/>
<path d="M1039.5 276.5 v5" stroke="#7d8592" stroke-width="1"/>
<path d="M1120.5 276.5 v5" stroke="#7d8592" stroke-width="1"/>
<path d="M1202.5 276.5 v5" stroke="#7d8592" stroke-width="1"/>
<path d="M1283.5 276.5 v5" stroke="#7d8592" stroke-width="1"/>
<path d="M1365.5 276.5 v5" stroke="#7d8592" stroke-width="1"/>
</svg>
<div class="abs t12" style="left:1.5px;width:50px;text-align:right;top:269.1px">0%</div>
<div class="abs t12" style="left:1.5px;width:50px;text-align:right;top:217.0px">10%</div>
<div class="abs t12" style="left:1.5px;width:50px;text-align:right;top:164.9px">20%</div>
<div class="abs t12" style="left:1.5px;width:50px;text-align:right;top:112.8px">30%</div>
<div class="abs t12" style="left:50.7px;width:100px;text-align:center;top:282.8px">小松鼠</div>
<div class="abs t12" style="left:132.2px;width:100px;text-align:center;top:282.8px">美的</div>
<div class="abs t12" style="left:213.8px;width:100px;text-align:center;top:282.8px">海尔</div>
<div class="abs t12" style="left:295.3px;width:100px;text-align:center;top:282.8px">方太</div>
<div class="abs t12" style="left:376.9px;width:100px;text-align:center;top:282.8px">华帝</div>
<div class="abs t12" style="left:458.5px;width:100px;text-align:center;top:282.8px">樱花</div>
<div class="abs t12" style="left:540.0px;width:100px;text-align:center;top:282.8px">威能</div>
<div class="abs t12" style="left:621.6px;width:100px;text-align:center;top:282.8px">博世</div>
<div class="abs t12" style="left:703.1px;width:100px;text-align:center;top:282.8px">火王</div>
<div class="abs t12" style="left:784.7px;width:100px;text-align:center;top:282.8px">万家乐</div>
<div class="abs t12" style="left:866.2px;width:100px;text-align:center;top:282.8px">美菱</div>
<div class="abs t12" style="left:947.8px;width:100px;text-align:center;top:282.8px">奥克斯</div>
<div class="abs t12" style="left:1029.4px;width:100px;text-align:center;top:282.8px">格力</div>
<div class="abs t12" style="left:1110.9px;width:100px;text-align:center;top:282.8px">中广欧特斯</div>
<div class="abs t12" style="left:1192.5px;width:100px;text-align:center;top:282.8px">纽恩泰</div>
<div class="abs t12" style="left:1274.0px;width:100px;text-align:center;top:282.8px">正理生能</div>
</div>

</body>
</html>
